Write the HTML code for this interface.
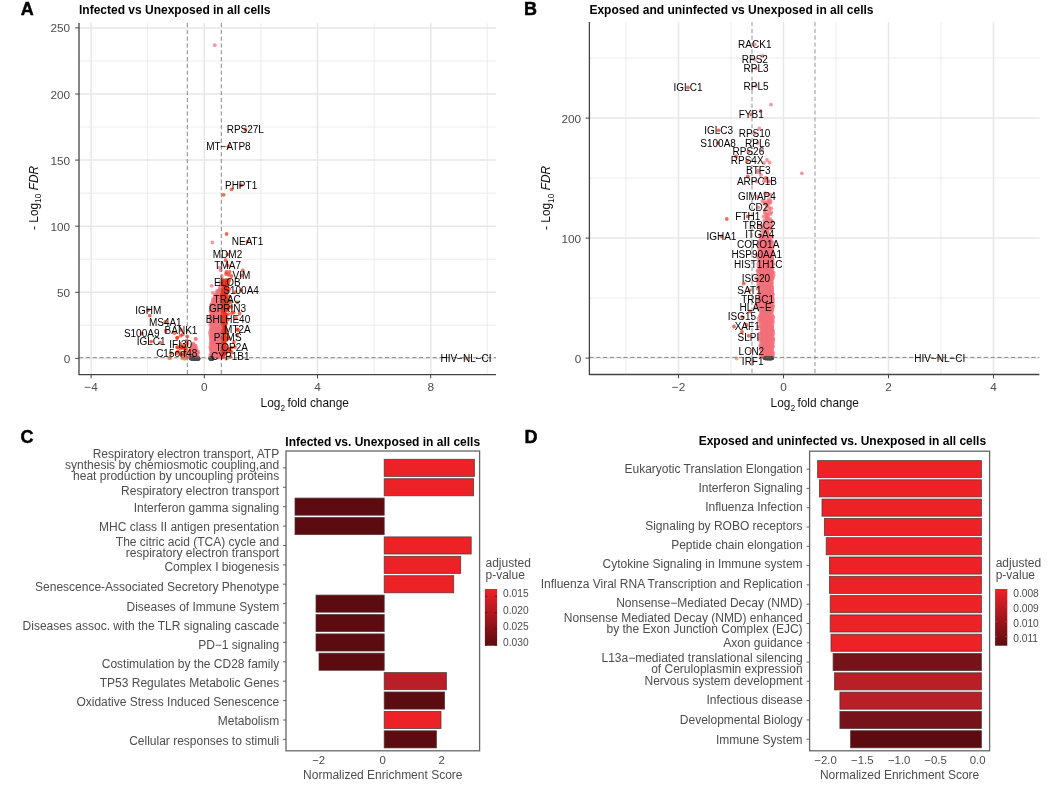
<!DOCTYPE html>
<html><head><meta charset="utf-8"><title>Figure</title>
<style>html,body{margin:0;padding:0;background:#fff}svg{display:block}text{font-family:"Liberation Sans", sans-serif}</style>
</head><body>
<svg width="1059" height="795" viewBox="0 0 1059 795">
<rect width="1059" height="795" fill="#fff"/>
<g>
<line x1="147.7" x2="147.7" y1="23" y2="374.6" stroke="#e9e9e9" stroke-width="0.8"/>
<line x1="260.9" x2="260.9" y1="23" y2="374.6" stroke="#e9e9e9" stroke-width="0.8"/>
<line x1="374.1" x2="374.1" y1="23" y2="374.6" stroke="#e9e9e9" stroke-width="0.8"/>
<line x1="487.3" x2="487.3" y1="23" y2="374.6" stroke="#e9e9e9" stroke-width="0.8"/>
<line x1="79.0" x2="496" y1="325.3" y2="325.3" stroke="#e9e9e9" stroke-width="0.8"/>
<line x1="79.0" x2="496" y1="259.2" y2="259.2" stroke="#e9e9e9" stroke-width="0.8"/>
<line x1="79.0" x2="496" y1="193.1" y2="193.1" stroke="#e9e9e9" stroke-width="0.8"/>
<line x1="79.0" x2="496" y1="127.0" y2="127.0" stroke="#e9e9e9" stroke-width="0.8"/>
<line x1="79.0" x2="496" y1="60.9" y2="60.9" stroke="#e9e9e9" stroke-width="0.8"/>
<line x1="91.1" x2="91.1" y1="23" y2="374.6" stroke="#e7e7e7" stroke-width="1.5"/>
<line x1="204.3" x2="204.3" y1="23" y2="374.6" stroke="#e7e7e7" stroke-width="1.5"/>
<line x1="317.5" x2="317.5" y1="23" y2="374.6" stroke="#e7e7e7" stroke-width="1.5"/>
<line x1="430.7" x2="430.7" y1="23" y2="374.6" stroke="#e7e7e7" stroke-width="1.5"/>
<line x1="79.0" x2="496" y1="358.4" y2="358.4" stroke="#e7e7e7" stroke-width="1.5"/>
<line x1="79.0" x2="496" y1="292.3" y2="292.3" stroke="#e7e7e7" stroke-width="1.5"/>
<line x1="79.0" x2="496" y1="226.2" y2="226.2" stroke="#e7e7e7" stroke-width="1.5"/>
<line x1="79.0" x2="496" y1="160.1" y2="160.1" stroke="#e7e7e7" stroke-width="1.5"/>
<line x1="79.0" x2="496" y1="94.0" y2="94.0" stroke="#e7e7e7" stroke-width="1.5"/>
<line x1="79.0" x2="496" y1="27.9" y2="27.9" stroke="#e7e7e7" stroke-width="1.5"/>
<g fill-opacity="0.72">
<circle cx="214.5" cy="332.7" r="1.9" fill="#f2707a"/>
<circle cx="215.2" cy="332.9" r="1.9" fill="#f2707a"/>
<circle cx="221.2" cy="298.4" r="1.9" fill="#f2707a"/>
<circle cx="221.2" cy="353.1" r="1.9" fill="#f2707a"/>
<circle cx="221.7" cy="297.2" r="1.9" fill="#f2707a"/>
<circle cx="217.2" cy="322.4" r="1.9" fill="#f2707a"/>
<circle cx="219.4" cy="294.9" r="1.9" fill="#f2707a"/>
<circle cx="219.8" cy="292.1" r="1.9" fill="#f2707a"/>
<circle cx="210.7" cy="317.6" r="1.9" fill="#f2707a"/>
<circle cx="213.3" cy="307.7" r="1.9" fill="#f2707a"/>
<circle cx="211.6" cy="341.8" r="1.9" fill="#f2707a"/>
<circle cx="192.1" cy="346.1" r="1.9" fill="#f2707a"/>
<circle cx="221.5" cy="299.9" r="1.9" fill="#f2707a"/>
<circle cx="220.6" cy="320.4" r="1.9" fill="#f2707a"/>
<circle cx="214.9" cy="328.7" r="1.9" fill="#f2707a"/>
<circle cx="213.9" cy="313.2" r="1.9" fill="#f2707a"/>
<circle cx="214.8" cy="334.1" r="1.9" fill="#f2707a"/>
<circle cx="218.5" cy="355.5" r="1.9" fill="#f2707a"/>
<circle cx="215.2" cy="337.0" r="1.9" fill="#f2707a"/>
<circle cx="218.9" cy="311.4" r="1.9" fill="#f2707a"/>
<circle cx="210.6" cy="329.8" r="1.9" fill="#f2707a"/>
<circle cx="212.4" cy="340.4" r="1.9" fill="#f2707a"/>
<circle cx="212.4" cy="355.8" r="1.9" fill="#f2707a"/>
<circle cx="219.7" cy="304.8" r="1.9" fill="#f2707a"/>
<circle cx="211.9" cy="349.1" r="1.9" fill="#f2707a"/>
<circle cx="191.8" cy="356.5" r="1.9" fill="#f2707a"/>
<circle cx="216.6" cy="325.1" r="1.9" fill="#f2707a"/>
<circle cx="213.9" cy="346.4" r="1.9" fill="#f2707a"/>
<circle cx="211.1" cy="339.7" r="1.9" fill="#f2707a"/>
<circle cx="218.3" cy="316.8" r="1.9" fill="#f2707a"/>
<circle cx="212.6" cy="306.1" r="1.9" fill="#f2707a"/>
<circle cx="221.2" cy="352.3" r="1.9" fill="#f2707a"/>
<circle cx="214.8" cy="336.1" r="1.9" fill="#f2707a"/>
<circle cx="220.9" cy="297.3" r="1.9" fill="#f2707a"/>
<circle cx="194.2" cy="355.8" r="1.9" fill="#f2707a"/>
<circle cx="220.1" cy="337.7" r="1.9" fill="#f2707a"/>
<circle cx="221.0" cy="346.5" r="1.9" fill="#f2707a"/>
<circle cx="217.5" cy="333.1" r="1.9" fill="#f2707a"/>
<circle cx="219.1" cy="349.0" r="1.9" fill="#f2707a"/>
<circle cx="219.0" cy="332.1" r="1.9" fill="#f2707a"/>
<circle cx="195.6" cy="338.8" r="1.9" fill="#f2707a"/>
<circle cx="214.2" cy="352.8" r="1.9" fill="#f2707a"/>
<circle cx="215.3" cy="354.6" r="1.9" fill="#f2707a"/>
<circle cx="194.3" cy="353.1" r="1.9" fill="#f2707a"/>
<circle cx="213.6" cy="340.7" r="1.9" fill="#f2707a"/>
<circle cx="216.8" cy="324.6" r="1.9" fill="#f2707a"/>
<circle cx="215.1" cy="340.4" r="1.9" fill="#f2707a"/>
<circle cx="217.1" cy="294.9" r="1.9" fill="#f2707a"/>
<circle cx="219.3" cy="324.3" r="1.9" fill="#f2707a"/>
<circle cx="220.0" cy="335.0" r="1.9" fill="#f2707a"/>
<circle cx="191.0" cy="357.4" r="1.9" fill="#f2707a"/>
<circle cx="189.7" cy="354.0" r="1.9" fill="#f2707a"/>
<circle cx="198.2" cy="352.5" r="1.9" fill="#f2707a"/>
<circle cx="191.0" cy="353.8" r="1.9" fill="#f2707a"/>
<circle cx="210.0" cy="334.1" r="1.9" fill="#f2707a"/>
<circle cx="214.4" cy="308.2" r="1.9" fill="#f2707a"/>
<circle cx="221.1" cy="347.8" r="1.9" fill="#f2707a"/>
<circle cx="215.3" cy="342.3" r="1.9" fill="#f2707a"/>
<circle cx="194.1" cy="352.5" r="1.9" fill="#f2707a"/>
<circle cx="216.6" cy="332.1" r="1.9" fill="#f2707a"/>
<circle cx="212.6" cy="327.9" r="1.9" fill="#f2707a"/>
<circle cx="218.3" cy="349.7" r="1.9" fill="#f2707a"/>
<circle cx="218.9" cy="292.2" r="1.9" fill="#f2707a"/>
<circle cx="220.4" cy="313.8" r="1.9" fill="#f2707a"/>
<circle cx="211.3" cy="304.6" r="1.9" fill="#f2707a"/>
<circle cx="219.8" cy="322.5" r="1.9" fill="#f2707a"/>
<circle cx="212.4" cy="329.3" r="1.9" fill="#f2707a"/>
<circle cx="190.2" cy="353.4" r="1.9" fill="#f2707a"/>
<circle cx="216.9" cy="290.9" r="1.9" fill="#f2707a"/>
<circle cx="215.0" cy="344.4" r="1.9" fill="#f2707a"/>
<circle cx="220.8" cy="326.6" r="1.9" fill="#f2707a"/>
<circle cx="222.0" cy="342.8" r="1.9" fill="#f2707a"/>
<circle cx="214.8" cy="45.2" r="1.9" fill="#f2707a"/>
<circle cx="215.1" cy="353.5" r="1.9" fill="#f2707a"/>
<circle cx="217.4" cy="292.4" r="1.9" fill="#f2707a"/>
<circle cx="219.7" cy="339.3" r="1.9" fill="#f2707a"/>
<circle cx="221.5" cy="289.6" r="1.9" fill="#f2707a"/>
<circle cx="218.7" cy="333.2" r="1.9" fill="#f2707a"/>
<circle cx="218.2" cy="315.7" r="1.9" fill="#f2707a"/>
<circle cx="214.7" cy="302.4" r="1.9" fill="#f2707a"/>
<circle cx="212.9" cy="292.8" r="1.9" fill="#f2707a"/>
<circle cx="219.7" cy="310.6" r="1.9" fill="#f2707a"/>
<circle cx="211.7" cy="351.6" r="1.9" fill="#f2707a"/>
<circle cx="213.1" cy="348.9" r="1.9" fill="#f2707a"/>
<circle cx="218.7" cy="321.7" r="1.9" fill="#f2707a"/>
<circle cx="212.0" cy="308.7" r="1.9" fill="#f2707a"/>
<circle cx="216.9" cy="320.8" r="1.9" fill="#f2707a"/>
<circle cx="219.8" cy="341.7" r="1.9" fill="#f2707a"/>
<circle cx="191.2" cy="350.8" r="1.9" fill="#f2707a"/>
<circle cx="220.8" cy="270.4" r="1.9" fill="#f2707a"/>
<circle cx="219.1" cy="291.6" r="1.9" fill="#f2707a"/>
<circle cx="215.4" cy="310.9" r="1.9" fill="#f2707a"/>
<circle cx="212.5" cy="346.9" r="1.9" fill="#f2707a"/>
<circle cx="220.4" cy="286.3" r="1.9" fill="#f2707a"/>
<circle cx="214.6" cy="299.6" r="1.9" fill="#f2707a"/>
<circle cx="214.5" cy="311.2" r="1.9" fill="#f2707a"/>
<circle cx="214.3" cy="305.4" r="1.9" fill="#f2707a"/>
<circle cx="220.8" cy="339.9" r="1.9" fill="#f2707a"/>
<circle cx="211.9" cy="307.8" r="1.9" fill="#f2707a"/>
<circle cx="218.7" cy="350.3" r="1.9" fill="#f2707a"/>
<circle cx="213.4" cy="313.8" r="1.9" fill="#f2707a"/>
<circle cx="216.2" cy="354.7" r="1.9" fill="#f2707a"/>
<circle cx="197.5" cy="352.9" r="1.9" fill="#f2707a"/>
<circle cx="211.8" cy="323.5" r="1.9" fill="#f2707a"/>
<circle cx="219.7" cy="345.3" r="1.9" fill="#f2707a"/>
<circle cx="221.0" cy="289.7" r="1.9" fill="#f2707a"/>
<circle cx="215.0" cy="306.6" r="1.9" fill="#f2707a"/>
<circle cx="219.5" cy="334.6" r="1.9" fill="#f2707a"/>
<circle cx="191.3" cy="354.6" r="1.9" fill="#f2707a"/>
<circle cx="218.5" cy="304.0" r="1.9" fill="#f2707a"/>
<circle cx="218.3" cy="342.4" r="1.9" fill="#f2707a"/>
<circle cx="219.2" cy="297.7" r="1.9" fill="#f2707a"/>
<circle cx="213.3" cy="315.0" r="1.9" fill="#f2707a"/>
<circle cx="217.4" cy="306.7" r="1.9" fill="#f2707a"/>
<circle cx="212.1" cy="356.8" r="1.9" fill="#f2707a"/>
<circle cx="215.5" cy="294.4" r="1.9" fill="#f2707a"/>
<circle cx="213.5" cy="352.1" r="1.9" fill="#f2707a"/>
<circle cx="219.7" cy="313.4" r="1.9" fill="#f2707a"/>
<circle cx="190.1" cy="351.5" r="1.9" fill="#f2707a"/>
<circle cx="216.0" cy="307.5" r="1.9" fill="#f2707a"/>
<circle cx="221.6" cy="303.5" r="1.9" fill="#f2707a"/>
<circle cx="220.6" cy="281.2" r="1.9" fill="#f2707a"/>
<circle cx="220.7" cy="283.6" r="1.9" fill="#f2707a"/>
<circle cx="212.5" cy="342.9" r="1.9" fill="#f2707a"/>
<circle cx="219.6" cy="289.0" r="1.9" fill="#f2707a"/>
<circle cx="218.3" cy="327.7" r="1.9" fill="#f2707a"/>
<circle cx="197.0" cy="352.5" r="1.9" fill="#f2707a"/>
<circle cx="212.7" cy="301.3" r="1.9" fill="#f2707a"/>
<circle cx="216.5" cy="352.5" r="1.9" fill="#f2707a"/>
<circle cx="213.7" cy="306.7" r="1.9" fill="#f2707a"/>
<circle cx="194.2" cy="354.2" r="1.9" fill="#f2707a"/>
<circle cx="215.3" cy="325.0" r="1.9" fill="#f2707a"/>
<circle cx="210.9" cy="346.1" r="1.9" fill="#f2707a"/>
<circle cx="217.2" cy="310.2" r="1.9" fill="#f2707a"/>
<circle cx="213.1" cy="332.1" r="1.9" fill="#f2707a"/>
<circle cx="211.2" cy="313.8" r="1.9" fill="#f2707a"/>
<circle cx="221.0" cy="335.4" r="1.9" fill="#f2707a"/>
<circle cx="195.8" cy="339.0" r="1.9" fill="#f2707a"/>
<circle cx="217.0" cy="319.7" r="1.9" fill="#f2707a"/>
<circle cx="217.3" cy="334.7" r="1.9" fill="#f2707a"/>
<circle cx="218.2" cy="317.7" r="1.9" fill="#f2707a"/>
<circle cx="196.9" cy="356.0" r="1.9" fill="#f2707a"/>
<circle cx="192.7" cy="350.9" r="1.9" fill="#f2707a"/>
<circle cx="213.2" cy="317.2" r="1.9" fill="#f2707a"/>
<circle cx="216.0" cy="326.7" r="1.9" fill="#f2707a"/>
<circle cx="214.4" cy="345.5" r="1.9" fill="#f2707a"/>
<circle cx="220.2" cy="354.7" r="1.9" fill="#f2707a"/>
<circle cx="222.0" cy="337.6" r="1.9" fill="#f2707a"/>
<circle cx="214.2" cy="330.5" r="1.9" fill="#f2707a"/>
<circle cx="216.1" cy="330.1" r="1.9" fill="#f2707a"/>
<circle cx="214.4" cy="356.5" r="1.9" fill="#f2707a"/>
<circle cx="210.1" cy="332.1" r="1.9" fill="#f2707a"/>
<circle cx="219.0" cy="326.9" r="1.9" fill="#f2707a"/>
<circle cx="214.5" cy="309.2" r="1.9" fill="#f2707a"/>
<circle cx="221.1" cy="320.3" r="1.9" fill="#f2707a"/>
<circle cx="217.1" cy="340.1" r="1.9" fill="#f2707a"/>
<circle cx="219.7" cy="340.0" r="1.9" fill="#f2707a"/>
<circle cx="211.0" cy="330.7" r="1.9" fill="#f2707a"/>
<circle cx="211.9" cy="344.3" r="1.9" fill="#f2707a"/>
<circle cx="194.0" cy="345.5" r="1.9" fill="#f2707a"/>
<circle cx="213.5" cy="353.9" r="1.9" fill="#f2707a"/>
<circle cx="210.3" cy="355.1" r="1.9" fill="#f2707a"/>
<circle cx="193.5" cy="357.3" r="1.9" fill="#f2707a"/>
<circle cx="210.1" cy="317.1" r="1.9" fill="#f2707a"/>
<circle cx="221.7" cy="308.3" r="1.9" fill="#f2707a"/>
<circle cx="218.5" cy="346.1" r="1.9" fill="#f2707a"/>
<circle cx="215.5" cy="321.9" r="1.9" fill="#f2707a"/>
<circle cx="212.4" cy="335.5" r="1.9" fill="#f2707a"/>
<circle cx="215.1" cy="314.3" r="1.9" fill="#f2707a"/>
<circle cx="196.3" cy="348.0" r="1.9" fill="#f2707a"/>
<circle cx="217.3" cy="345.7" r="1.9" fill="#f2707a"/>
<circle cx="196.0" cy="356.2" r="1.9" fill="#f2707a"/>
<circle cx="222.2" cy="291.8" r="1.9" fill="#f2707a"/>
<circle cx="213.3" cy="317.4" r="1.9" fill="#f2707a"/>
<circle cx="218.6" cy="301.3" r="1.9" fill="#f2707a"/>
<circle cx="219.9" cy="291.5" r="1.9" fill="#f2707a"/>
<circle cx="214.1" cy="355.8" r="1.9" fill="#f2707a"/>
<circle cx="216.4" cy="321.4" r="1.9" fill="#f2707a"/>
<circle cx="222.1" cy="296.7" r="1.9" fill="#f2707a"/>
<circle cx="216.7" cy="337.9" r="1.9" fill="#f2707a"/>
<circle cx="212.0" cy="354.8" r="1.9" fill="#f2707a"/>
<circle cx="221.2" cy="284.8" r="1.9" fill="#f2707a"/>
<circle cx="216.4" cy="308.6" r="1.9" fill="#f2707a"/>
<circle cx="217.9" cy="309.6" r="1.9" fill="#f2707a"/>
<circle cx="219.8" cy="354.4" r="1.9" fill="#f2707a"/>
<circle cx="219.7" cy="328.6" r="1.9" fill="#f2707a"/>
<circle cx="217.0" cy="315.7" r="1.9" fill="#f2707a"/>
<circle cx="213.9" cy="337.9" r="1.9" fill="#f2707a"/>
<circle cx="220.6" cy="348.7" r="1.9" fill="#f2707a"/>
<circle cx="194.7" cy="351.9" r="1.9" fill="#f2707a"/>
<circle cx="218.0" cy="357.5" r="1.9" fill="#f2707a"/>
<circle cx="191.2" cy="349.4" r="1.9" fill="#f2707a"/>
<circle cx="219.7" cy="330.2" r="1.9" fill="#f2707a"/>
<circle cx="215.4" cy="327.4" r="1.9" fill="#f2707a"/>
<circle cx="219.3" cy="344.7" r="1.9" fill="#f2707a"/>
<circle cx="222.0" cy="293.8" r="1.9" fill="#f2707a"/>
<circle cx="220.1" cy="296.7" r="1.9" fill="#f2707a"/>
<circle cx="191.5" cy="347.4" r="1.9" fill="#f2707a"/>
<circle cx="214.4" cy="323.5" r="1.9" fill="#f2707a"/>
<circle cx="221.2" cy="356.7" r="1.9" fill="#f2707a"/>
<circle cx="217.9" cy="354.4" r="1.9" fill="#f2707a"/>
<circle cx="211.9" cy="353.6" r="1.9" fill="#f2707a"/>
<circle cx="212.3" cy="337.7" r="1.9" fill="#f2707a"/>
<circle cx="221.3" cy="325.3" r="1.9" fill="#f2707a"/>
<circle cx="221.9" cy="328.4" r="1.9" fill="#f2707a"/>
<circle cx="221.9" cy="351.3" r="1.9" fill="#f2707a"/>
<circle cx="195.4" cy="356.8" r="1.9" fill="#f2707a"/>
<circle cx="213.2" cy="341.3" r="1.9" fill="#f2707a"/>
<circle cx="220.5" cy="344.4" r="1.9" fill="#f2707a"/>
<circle cx="219.1" cy="314.4" r="1.9" fill="#f2707a"/>
<circle cx="210.9" cy="325.1" r="1.9" fill="#f2707a"/>
<circle cx="213.9" cy="301.1" r="1.9" fill="#f2707a"/>
<circle cx="215.8" cy="349.5" r="1.9" fill="#f2707a"/>
<circle cx="221.3" cy="317.2" r="1.9" fill="#f2707a"/>
<circle cx="216.9" cy="294.4" r="1.9" fill="#f2707a"/>
<circle cx="215.8" cy="299.1" r="1.9" fill="#f2707a"/>
<circle cx="212.7" cy="313.4" r="1.9" fill="#f2707a"/>
<circle cx="189.7" cy="351.7" r="1.9" fill="#f2707a"/>
<circle cx="216.4" cy="346.5" r="1.9" fill="#f2707a"/>
<circle cx="217.9" cy="352.1" r="1.9" fill="#f2707a"/>
<circle cx="210.3" cy="324.8" r="1.9" fill="#f2707a"/>
<circle cx="195.3" cy="351.5" r="1.9" fill="#f2707a"/>
<circle cx="219.0" cy="310.9" r="1.9" fill="#f2707a"/>
<circle cx="218.7" cy="316.3" r="1.9" fill="#f2707a"/>
<circle cx="221.2" cy="301.5" r="1.9" fill="#f2707a"/>
<circle cx="213.9" cy="320.8" r="1.9" fill="#f2707a"/>
<circle cx="192.5" cy="344.6" r="1.9" fill="#f2707a"/>
<circle cx="213.0" cy="299.1" r="1.9" fill="#f2707a"/>
<circle cx="219.5" cy="267.7" r="1.9" fill="#f2707a"/>
<circle cx="212.4" cy="303.3" r="1.9" fill="#f2707a"/>
<circle cx="213.2" cy="348.5" r="1.9" fill="#f2707a"/>
<circle cx="219.1" cy="294.8" r="1.9" fill="#f2707a"/>
<circle cx="211.8" cy="312.9" r="1.9" fill="#f2707a"/>
<circle cx="221.3" cy="342.3" r="1.9" fill="#f2707a"/>
<circle cx="216.9" cy="339.5" r="1.9" fill="#f2707a"/>
<circle cx="214.5" cy="347.8" r="1.9" fill="#f2707a"/>
<circle cx="217.3" cy="337.1" r="1.9" fill="#f2707a"/>
<circle cx="211.9" cy="321.3" r="1.9" fill="#f2707a"/>
<circle cx="216.0" cy="337.8" r="1.9" fill="#f2707a"/>
<circle cx="211.6" cy="328.5" r="1.9" fill="#f2707a"/>
<circle cx="212.9" cy="309.8" r="1.9" fill="#f2707a"/>
<circle cx="217.5" cy="313.3" r="1.9" fill="#f2707a"/>
<circle cx="215.8" cy="304.3" r="1.9" fill="#f2707a"/>
<circle cx="215.2" cy="345.1" r="1.9" fill="#f2707a"/>
<circle cx="193.8" cy="347.3" r="1.9" fill="#f2707a"/>
<circle cx="218.4" cy="321.9" r="1.9" fill="#f2707a"/>
<circle cx="218.7" cy="303.2" r="1.9" fill="#f2707a"/>
<circle cx="211.1" cy="342.3" r="1.9" fill="#f2707a"/>
<circle cx="220.3" cy="355.4" r="1.9" fill="#f2707a"/>
<circle cx="216.8" cy="306.5" r="1.9" fill="#f2707a"/>
<circle cx="221.3" cy="315.9" r="1.9" fill="#f2707a"/>
<circle cx="221.1" cy="330.6" r="1.9" fill="#f2707a"/>
<circle cx="212.9" cy="333.5" r="1.9" fill="#f2707a"/>
<circle cx="219.2" cy="346.8" r="1.9" fill="#f2707a"/>
<circle cx="216.6" cy="305.6" r="1.9" fill="#f2707a"/>
<circle cx="213.6" cy="304.5" r="1.9" fill="#f2707a"/>
<circle cx="195.2" cy="347.0" r="1.9" fill="#f2707a"/>
<circle cx="211.7" cy="333.4" r="1.9" fill="#f2707a"/>
<circle cx="214.9" cy="304.5" r="1.9" fill="#f2707a"/>
<circle cx="213.0" cy="330.3" r="1.9" fill="#f2707a"/>
<circle cx="218.7" cy="325.9" r="1.9" fill="#f2707a"/>
<circle cx="221.2" cy="345.8" r="1.9" fill="#f2707a"/>
<circle cx="210.8" cy="306.8" r="1.9" fill="#f2707a"/>
<circle cx="211.6" cy="314.1" r="1.9" fill="#f2707a"/>
<circle cx="215.9" cy="323.3" r="1.9" fill="#f2707a"/>
<circle cx="211.0" cy="315.3" r="1.9" fill="#f2707a"/>
<circle cx="211.1" cy="318.7" r="1.9" fill="#f2707a"/>
<circle cx="212.4" cy="242.5" r="1.9" fill="#f2707a"/>
<circle cx="195.6" cy="352.9" r="1.9" fill="#f2707a"/>
<circle cx="215.3" cy="302.8" r="1.9" fill="#f2707a"/>
<circle cx="210.5" cy="311.3" r="1.9" fill="#f2707a"/>
<circle cx="193.4" cy="348.0" r="1.9" fill="#f2707a"/>
<circle cx="220.3" cy="334.3" r="1.9" fill="#f2707a"/>
<circle cx="192.6" cy="352.2" r="1.9" fill="#f2707a"/>
<circle cx="215.8" cy="344.3" r="1.9" fill="#f2707a"/>
<circle cx="216.8" cy="356.5" r="1.9" fill="#f2707a"/>
<circle cx="210.2" cy="347.1" r="1.9" fill="#f2707a"/>
<circle cx="217.0" cy="303.2" r="1.9" fill="#f2707a"/>
<circle cx="211.0" cy="348.5" r="1.9" fill="#f2707a"/>
<circle cx="213.7" cy="334.6" r="1.9" fill="#f2707a"/>
<circle cx="211.1" cy="352.5" r="1.9" fill="#f2707a"/>
<circle cx="213.5" cy="356.4" r="1.9" fill="#f2707a"/>
<circle cx="215.7" cy="295.1" r="1.9" fill="#f2707a"/>
<circle cx="221.6" cy="323.2" r="1.9" fill="#f2707a"/>
<circle cx="214.7" cy="326.2" r="1.9" fill="#f2707a"/>
<circle cx="216.2" cy="343.1" r="1.9" fill="#f2707a"/>
<circle cx="221.8" cy="275.9" r="1.9" fill="#f2707a"/>
<circle cx="192.1" cy="349.7" r="1.9" fill="#f2707a"/>
<circle cx="192.4" cy="352.9" r="1.9" fill="#f2707a"/>
<circle cx="195.0" cy="348.4" r="1.9" fill="#f2707a"/>
<circle cx="214.0" cy="344.3" r="1.9" fill="#f2707a"/>
<circle cx="211.5" cy="331.5" r="1.9" fill="#f2707a"/>
<circle cx="215.0" cy="349.0" r="1.9" fill="#f2707a"/>
<circle cx="218.9" cy="341.2" r="1.9" fill="#f2707a"/>
<circle cx="213.8" cy="350.5" r="1.9" fill="#f2707a"/>
<circle cx="215.5" cy="347.6" r="1.9" fill="#f2707a"/>
<circle cx="214.7" cy="316.9" r="1.9" fill="#f2707a"/>
<circle cx="218.3" cy="296.1" r="1.9" fill="#f2707a"/>
<circle cx="189.8" cy="355.4" r="1.9" fill="#f2707a"/>
<circle cx="217.6" cy="296.4" r="1.9" fill="#f2707a"/>
<circle cx="215.7" cy="320.1" r="1.9" fill="#f2707a"/>
<circle cx="220.9" cy="306.2" r="1.9" fill="#f2707a"/>
<circle cx="217.5" cy="327.7" r="1.9" fill="#f2707a"/>
<circle cx="218.9" cy="294.1" r="1.9" fill="#f2707a"/>
<circle cx="221.2" cy="305.6" r="1.9" fill="#f2707a"/>
<circle cx="218.2" cy="307.7" r="1.9" fill="#f2707a"/>
<circle cx="211.2" cy="340.6" r="1.9" fill="#f2707a"/>
<circle cx="219.7" cy="327.8" r="1.9" fill="#f2707a"/>
<circle cx="220.9" cy="310.8" r="1.9" fill="#f2707a"/>
<circle cx="220.3" cy="287.9" r="1.9" fill="#f2707a"/>
<circle cx="216.8" cy="353.1" r="1.9" fill="#f2707a"/>
<circle cx="218.5" cy="335.6" r="1.9" fill="#f2707a"/>
<circle cx="210.5" cy="343.9" r="1.9" fill="#f2707a"/>
<circle cx="216.1" cy="317.8" r="1.9" fill="#f2707a"/>
<circle cx="212.3" cy="317.1" r="1.9" fill="#f2707a"/>
<circle cx="216.5" cy="311.8" r="1.9" fill="#f2707a"/>
<circle cx="219.8" cy="299.3" r="1.9" fill="#f2707a"/>
<circle cx="210.9" cy="355.5" r="1.9" fill="#f2707a"/>
<circle cx="212.9" cy="305.2" r="1.9" fill="#f2707a"/>
<circle cx="197.4" cy="354.0" r="1.9" fill="#f2707a"/>
<circle cx="213.4" cy="327.0" r="1.9" fill="#f2707a"/>
<circle cx="219.5" cy="314.8" r="1.9" fill="#f2707a"/>
<circle cx="217.9" cy="303.7" r="1.9" fill="#f2707a"/>
<circle cx="217.3" cy="344.7" r="1.9" fill="#f2707a"/>
<circle cx="215.1" cy="355.4" r="1.9" fill="#f2707a"/>
<circle cx="219.8" cy="350.5" r="1.9" fill="#f2707a"/>
<circle cx="212.4" cy="346.0" r="1.9" fill="#f2707a"/>
<circle cx="192.2" cy="354.6" r="1.9" fill="#f2707a"/>
<circle cx="218.1" cy="297.3" r="1.9" fill="#f2707a"/>
<circle cx="189.1" cy="356.6" r="1.9" fill="#f2707a"/>
<circle cx="217.2" cy="305.3" r="1.9" fill="#f2707a"/>
<circle cx="215.2" cy="339.2" r="1.9" fill="#f2707a"/>
<circle cx="217.5" cy="308.2" r="1.9" fill="#f2707a"/>
<circle cx="220.4" cy="308.6" r="1.9" fill="#f2707a"/>
<circle cx="192.1" cy="348.4" r="1.9" fill="#f2707a"/>
<circle cx="219.1" cy="348.1" r="1.9" fill="#f2707a"/>
<circle cx="191.3" cy="352.0" r="1.9" fill="#f2707a"/>
<circle cx="198.3" cy="357.0" r="1.9" fill="#f2707a"/>
<circle cx="214.6" cy="297.4" r="1.9" fill="#f2707a"/>
<circle cx="217.0" cy="355.5" r="1.9" fill="#f2707a"/>
<circle cx="210.8" cy="310.2" r="1.9" fill="#f2707a"/>
<circle cx="214.8" cy="324.1" r="1.9" fill="#f2707a"/>
<circle cx="219.4" cy="333.4" r="1.9" fill="#f2707a"/>
<circle cx="219.0" cy="331.1" r="1.9" fill="#f2707a"/>
<circle cx="193.9" cy="349.4" r="1.9" fill="#f2707a"/>
<circle cx="210.9" cy="338.1" r="1.9" fill="#f2707a"/>
<circle cx="220.0" cy="303.7" r="1.9" fill="#f2707a"/>
<circle cx="218.7" cy="319.4" r="1.9" fill="#f2707a"/>
<circle cx="212.2" cy="334.3" r="1.9" fill="#f2707a"/>
<circle cx="213.6" cy="309.2" r="1.9" fill="#f2707a"/>
<circle cx="211.0" cy="335.3" r="1.9" fill="#f2707a"/>
<circle cx="219.2" cy="357.6" r="1.9" fill="#f2707a"/>
<circle cx="215.4" cy="319.6" r="1.9" fill="#f2707a"/>
<circle cx="215.4" cy="336.1" r="1.9" fill="#f2707a"/>
<circle cx="217.0" cy="335.0" r="1.9" fill="#f2707a"/>
<circle cx="219.9" cy="325.4" r="1.9" fill="#f2707a"/>
<circle cx="219.3" cy="301.1" r="1.9" fill="#f2707a"/>
<circle cx="217.7" cy="299.1" r="1.9" fill="#f2707a"/>
<circle cx="217.6" cy="329.9" r="1.9" fill="#f2707a"/>
<circle cx="216.9" cy="347.9" r="1.9" fill="#f2707a"/>
<circle cx="221.8" cy="317.3" r="1.9" fill="#f2707a"/>
<circle cx="214.5" cy="315.8" r="1.9" fill="#f2707a"/>
<circle cx="211.7" cy="319.7" r="1.9" fill="#f2707a"/>
<circle cx="194.5" cy="354.3" r="1.9" fill="#f2707a"/>
<circle cx="220.8" cy="331.2" r="1.9" fill="#f2707a"/>
<circle cx="213.7" cy="328.9" r="1.9" fill="#f2707a"/>
<circle cx="217.0" cy="350.1" r="1.9" fill="#f2707a"/>
<circle cx="212.3" cy="326.2" r="1.9" fill="#f2707a"/>
<circle cx="213.2" cy="323.9" r="1.9" fill="#f2707a"/>
<circle cx="220.8" cy="349.8" r="1.9" fill="#f2707a"/>
<circle cx="196.8" cy="357.0" r="1.9" fill="#f2707a"/>
<circle cx="220.7" cy="302.9" r="1.9" fill="#f2707a"/>
<circle cx="217.1" cy="343.1" r="1.9" fill="#f2707a"/>
<circle cx="222.0" cy="312.7" r="1.9" fill="#f2707a"/>
<circle cx="212.9" cy="321.4" r="1.9" fill="#f2707a"/>
<circle cx="220.8" cy="288.6" r="1.9" fill="#f2707a"/>
<circle cx="217.1" cy="302.1" r="1.9" fill="#f2707a"/>
<circle cx="220.6" cy="324.7" r="1.9" fill="#f2707a"/>
<circle cx="219.1" cy="306.9" r="1.9" fill="#f2707a"/>
<circle cx="218.8" cy="352.4" r="1.9" fill="#f2707a"/>
<circle cx="211.6" cy="339.8" r="1.9" fill="#f2707a"/>
<circle cx="213.9" cy="317.7" r="1.9" fill="#f2707a"/>
<circle cx="210.6" cy="348.9" r="1.9" fill="#f2707a"/>
<circle cx="215.1" cy="350.3" r="1.9" fill="#f2707a"/>
<circle cx="217.3" cy="311.4" r="1.9" fill="#f2707a"/>
<circle cx="194.2" cy="350.9" r="1.9" fill="#f2707a"/>
<circle cx="213.7" cy="338.8" r="1.9" fill="#f2707a"/>
<circle cx="210.2" cy="357.2" r="1.9" fill="#f2707a"/>
<circle cx="213.3" cy="299.9" r="1.9" fill="#f2707a"/>
<circle cx="192.6" cy="346.9" r="1.9" fill="#f2707a"/>
<circle cx="216.1" cy="316.0" r="1.9" fill="#f2707a"/>
<circle cx="212.6" cy="320.3" r="1.9" fill="#f2707a"/>
<circle cx="221.2" cy="328.8" r="1.9" fill="#f2707a"/>
<circle cx="195.8" cy="354.1" r="1.9" fill="#f2707a"/>
<circle cx="220.1" cy="294.3" r="1.9" fill="#f2707a"/>
<circle cx="219.3" cy="309.4" r="1.9" fill="#f2707a"/>
<circle cx="214.8" cy="325.4" r="1.9" fill="#f2707a"/>
<circle cx="218.0" cy="331.3" r="1.9" fill="#f2707a"/>
<circle cx="211.2" cy="350.2" r="1.9" fill="#f2707a"/>
<circle cx="212.2" cy="350.2" r="1.9" fill="#f2707a"/>
<circle cx="193.7" cy="345.1" r="1.9" fill="#f2707a"/>
<circle cx="210.1" cy="321.7" r="1.9" fill="#f2707a"/>
<circle cx="218.3" cy="313.9" r="1.9" fill="#f2707a"/>
<circle cx="217.4" cy="339.8" r="1.9" fill="#f2707a"/>
<circle cx="214.5" cy="310.2" r="1.9" fill="#f2707a"/>
<circle cx="214.3" cy="327.8" r="1.9" fill="#f2707a"/>
<circle cx="216.7" cy="342.1" r="1.9" fill="#f2707a"/>
<circle cx="218.2" cy="300.3" r="1.9" fill="#f2707a"/>
<circle cx="221.8" cy="278.6" r="1.9" fill="#f2707a"/>
<circle cx="219.5" cy="317.8" r="1.9" fill="#f2707a"/>
<circle cx="190.0" cy="350.2" r="1.9" fill="#f2707a"/>
<circle cx="216.2" cy="300.1" r="1.9" fill="#f2707a"/>
<circle cx="196.4" cy="349.9" r="1.9" fill="#f2707a"/>
<circle cx="193.4" cy="343.5" r="1.9" fill="#f2707a"/>
<circle cx="214.8" cy="296.7" r="1.9" fill="#f2707a"/>
<circle cx="220.5" cy="353.6" r="1.9" fill="#f2707a"/>
<circle cx="216.4" cy="329.2" r="1.9" fill="#f2707a"/>
<circle cx="216.3" cy="312.4" r="1.9" fill="#f2707a"/>
<circle cx="221.2" cy="337.0" r="1.9" fill="#f2707a"/>
<circle cx="191.3" cy="355.4" r="1.9" fill="#f2707a"/>
<circle cx="219.0" cy="291.0" r="1.9" fill="#f2707a"/>
<circle cx="215.3" cy="298.9" r="1.9" fill="#f2707a"/>
<circle cx="212.6" cy="311.1" r="1.9" fill="#f2707a"/>
<circle cx="221.7" cy="283.0" r="1.9" fill="#f2707a"/>
<circle cx="211.9" cy="336.8" r="1.9" fill="#f2707a"/>
<circle cx="221.1" cy="311.6" r="1.9" fill="#f2707a"/>
<circle cx="220.7" cy="321.4" r="1.9" fill="#f2707a"/>
<circle cx="214.2" cy="343.2" r="1.9" fill="#f2707a"/>
<circle cx="215.4" cy="347.2" r="1.9" fill="#f2707a"/>
<circle cx="217.6" cy="327.0" r="1.9" fill="#f2707a"/>
<circle cx="216.5" cy="297.1" r="1.9" fill="#f2707a"/>
<circle cx="217.6" cy="347.3" r="1.9" fill="#f2707a"/>
<circle cx="221.2" cy="340.2" r="1.9" fill="#f2707a"/>
<circle cx="195.1" cy="350.2" r="1.9" fill="#f2707a"/>
<circle cx="211.1" cy="327.3" r="1.9" fill="#f2707a"/>
<circle cx="211.5" cy="304.8" r="1.9" fill="#f2707a"/>
<circle cx="218.2" cy="320.7" r="1.9" fill="#f2707a"/>
<circle cx="217.4" cy="329.1" r="1.9" fill="#f2707a"/>
<circle cx="211.7" cy="342.7" r="1.9" fill="#f2707a"/>
<circle cx="218.5" cy="290.6" r="1.9" fill="#f2707a"/>
<circle cx="221.5" cy="356.2" r="1.9" fill="#f2707a"/>
<circle cx="219.9" cy="307.3" r="1.9" fill="#f2707a"/>
<circle cx="216.0" cy="334.6" r="1.9" fill="#f2707a"/>
<circle cx="197.6" cy="351.1" r="1.9" fill="#f2707a"/>
<circle cx="218.1" cy="353.2" r="1.9" fill="#f2707a"/>
<circle cx="222.2" cy="292.5" r="1.9" fill="#f2707a"/>
<circle cx="218.5" cy="343.2" r="1.9" fill="#f2707a"/>
<circle cx="194.8" cy="345.3" r="1.9" fill="#f2707a"/>
<circle cx="218.3" cy="337.5" r="1.9" fill="#f2707a"/>
<circle cx="210.5" cy="336.8" r="1.9" fill="#f2707a"/>
<circle cx="212.3" cy="322.5" r="1.9" fill="#f2707a"/>
<circle cx="217.1" cy="317.7" r="1.9" fill="#f2707a"/>
<circle cx="215.8" cy="315.2" r="1.9" fill="#f2707a"/>
<circle cx="218.9" cy="336.3" r="1.9" fill="#f2707a"/>
<circle cx="195.7" cy="345.7" r="1.9" fill="#f2707a"/>
<circle cx="211.8" cy="320.1" r="1.9" fill="#f2707a"/>
<circle cx="212.1" cy="324.4" r="1.9" fill="#f2707a"/>
<circle cx="211.0" cy="309.0" r="1.9" fill="#f2707a"/>
<circle cx="217.3" cy="324.5" r="1.9" fill="#f2707a"/>
<circle cx="193.0" cy="355.2" r="1.9" fill="#f2707a"/>
<circle cx="221.7" cy="295.7" r="1.9" fill="#f2707a"/>
<circle cx="218.3" cy="323.4" r="1.9" fill="#f2707a"/>
<circle cx="219.7" cy="300.2" r="1.9" fill="#f2707a"/>
<circle cx="216.3" cy="296.7" r="1.9" fill="#f2707a"/>
<circle cx="214.9" cy="331.6" r="1.9" fill="#f2707a"/>
<circle cx="217.5" cy="319.7" r="1.9" fill="#f2707a"/>
<circle cx="214.1" cy="336.6" r="1.9" fill="#f2707a"/>
<circle cx="211.6" cy="285.8" r="1.9" fill="#f2707a"/>
<circle cx="216.8" cy="314.3" r="1.9" fill="#f2707a"/>
<circle cx="212.8" cy="325.1" r="1.9" fill="#f2707a"/>
<circle cx="220.6" cy="343.4" r="1.9" fill="#f2707a"/>
<circle cx="216.2" cy="336.3" r="1.9" fill="#f2707a"/>
<circle cx="220.6" cy="319.0" r="1.9" fill="#f2707a"/>
<circle cx="221.5" cy="333.1" r="1.9" fill="#f2707a"/>
<circle cx="221.9" cy="302.5" r="1.9" fill="#f2707a"/>
<circle cx="212.6" cy="353.4" r="1.9" fill="#f2707a"/>
<circle cx="191.1" cy="349.0" r="1.9" fill="#f2707a"/>
<circle cx="218.0" cy="312.6" r="1.9" fill="#f2707a"/>
<circle cx="214.4" cy="351.9" r="1.9" fill="#f2707a"/>
<circle cx="213.0" cy="318.6" r="1.9" fill="#f2707a"/>
<circle cx="214.9" cy="301.9" r="1.9" fill="#f2707a"/>
<circle cx="213.6" cy="311.2" r="1.9" fill="#f2707a"/>
<circle cx="225.1" cy="326.4" r="1.9" fill="#ea341c"/>
<circle cx="223.5" cy="308.8" r="1.9" fill="#ea341c"/>
<circle cx="227.0" cy="284.3" r="1.9" fill="#ea341c"/>
<circle cx="225.2" cy="320.5" r="1.9" fill="#ea341c"/>
<circle cx="224.5" cy="296.5" r="1.9" fill="#ea341c"/>
<circle cx="225.5" cy="296.9" r="1.9" fill="#ea341c"/>
<circle cx="224.5" cy="310.0" r="1.9" fill="#ea341c"/>
<circle cx="237.4" cy="329.4" r="1.9" fill="#ea341c"/>
<circle cx="186.7" cy="340.8" r="1.9" fill="#ea341c"/>
<circle cx="224.0" cy="301.1" r="1.9" fill="#ea341c"/>
<circle cx="224.9" cy="280.3" r="1.9" fill="#ea341c"/>
<circle cx="225.1" cy="300.4" r="1.9" fill="#ea341c"/>
<circle cx="231.7" cy="347.6" r="1.9" fill="#ea341c"/>
<circle cx="227.0" cy="309.6" r="1.9" fill="#ea341c"/>
<circle cx="223.8" cy="295.2" r="1.9" fill="#ea341c"/>
<circle cx="225.4" cy="294.5" r="1.9" fill="#ea341c"/>
<circle cx="222.9" cy="350.4" r="1.9" fill="#ea341c"/>
<circle cx="184.2" cy="348.0" r="1.9" fill="#ea341c"/>
<circle cx="223.1" cy="305.3" r="1.9" fill="#ea341c"/>
<circle cx="236.0" cy="318.0" r="1.9" fill="#ea341c"/>
<circle cx="223.8" cy="280.4" r="1.9" fill="#ea341c"/>
<circle cx="224.4" cy="315.3" r="1.9" fill="#ea341c"/>
<circle cx="228.6" cy="281.2" r="1.9" fill="#ea341c"/>
<circle cx="224.9" cy="313.3" r="1.9" fill="#ea341c"/>
<circle cx="180.6" cy="348.6" r="1.9" fill="#ea341c"/>
<circle cx="223.9" cy="317.1" r="1.9" fill="#ea341c"/>
<circle cx="165.3" cy="322.0" r="1.9" fill="#ea341c"/>
<circle cx="231.6" cy="189.4" r="1.9" fill="#ea341c"/>
<circle cx="224.5" cy="293.4" r="1.9" fill="#ea341c"/>
<circle cx="222.8" cy="290.5" r="1.9" fill="#ea341c"/>
<circle cx="223.7" cy="351.6" r="1.9" fill="#ea341c"/>
<circle cx="225.6" cy="302.7" r="1.9" fill="#ea341c"/>
<circle cx="241.1" cy="290.5" r="1.9" fill="#ea341c"/>
<circle cx="222.8" cy="291.0" r="1.9" fill="#ea341c"/>
<circle cx="224.4" cy="309.9" r="1.9" fill="#ea341c"/>
<circle cx="226.0" cy="274.0" r="1.9" fill="#ea341c"/>
<circle cx="223.1" cy="318.4" r="1.9" fill="#ea341c"/>
<circle cx="225.8" cy="323.1" r="1.9" fill="#ea341c"/>
<circle cx="225.2" cy="347.4" r="1.9" fill="#ea341c"/>
<circle cx="223.2" cy="304.6" r="1.9" fill="#ea341c"/>
<circle cx="226.5" cy="351.4" r="1.9" fill="#ea341c"/>
<circle cx="171.0" cy="353.2" r="1.9" fill="#ea341c"/>
<circle cx="223.2" cy="295.9" r="1.9" fill="#ea341c"/>
<circle cx="184.3" cy="353.8" r="1.9" fill="#ea341c"/>
<circle cx="227.6" cy="290.3" r="1.9" fill="#ea341c"/>
<circle cx="225.1" cy="305.6" r="1.9" fill="#ea341c"/>
<circle cx="241.5" cy="275.4" r="1.9" fill="#ea341c"/>
<circle cx="224.4" cy="353.0" r="1.9" fill="#ea341c"/>
<circle cx="226.6" cy="284.0" r="1.9" fill="#ea341c"/>
<circle cx="223.1" cy="316.6" r="1.9" fill="#ea341c"/>
<circle cx="226.3" cy="329.4" r="1.9" fill="#ea341c"/>
<circle cx="174.6" cy="333.0" r="1.9" fill="#ea341c"/>
<circle cx="229.3" cy="348.7" r="1.9" fill="#ea341c"/>
<circle cx="177.0" cy="338.0" r="1.9" fill="#ea341c"/>
<circle cx="222.3" cy="293.7" r="1.9" fill="#ea341c"/>
<circle cx="224.9" cy="344.2" r="1.9" fill="#ea341c"/>
<circle cx="180.7" cy="335.6" r="1.9" fill="#ea341c"/>
<circle cx="225.0" cy="350.5" r="1.9" fill="#ea341c"/>
<circle cx="224.3" cy="305.5" r="1.9" fill="#ea341c"/>
<circle cx="223.6" cy="333.9" r="1.9" fill="#ea341c"/>
<circle cx="222.8" cy="282.6" r="1.9" fill="#ea341c"/>
<circle cx="226.0" cy="340.4" r="1.9" fill="#ea341c"/>
<circle cx="181.2" cy="347.2" r="1.9" fill="#ea341c"/>
<circle cx="185.3" cy="356.8" r="1.9" fill="#ea341c"/>
<circle cx="222.7" cy="311.3" r="1.9" fill="#ea341c"/>
<circle cx="227.5" cy="254.4" r="1.9" fill="#ea341c"/>
<circle cx="225.5" cy="288.8" r="1.9" fill="#ea341c"/>
<circle cx="224.8" cy="281.6" r="1.9" fill="#ea341c"/>
<circle cx="224.4" cy="315.8" r="1.9" fill="#ea341c"/>
<circle cx="226.2" cy="333.9" r="1.9" fill="#ea341c"/>
<circle cx="185.0" cy="351.5" r="1.9" fill="#ea341c"/>
<circle cx="223.2" cy="301.8" r="1.9" fill="#ea341c"/>
<circle cx="225.7" cy="302.4" r="1.9" fill="#ea341c"/>
<circle cx="148.2" cy="310.0" r="1.9" fill="#ea341c"/>
<circle cx="229.4" cy="350.6" r="1.9" fill="#ea341c"/>
<circle cx="224.4" cy="333.5" r="1.9" fill="#ea341c"/>
<circle cx="225.5" cy="299.5" r="1.9" fill="#ea341c"/>
<circle cx="224.4" cy="340.8" r="1.9" fill="#ea341c"/>
<circle cx="223.2" cy="343.0" r="1.9" fill="#ea341c"/>
<circle cx="233.7" cy="312.4" r="1.9" fill="#ea341c"/>
<circle cx="184.7" cy="352.1" r="1.9" fill="#ea341c"/>
<circle cx="228.2" cy="302.5" r="1.9" fill="#ea341c"/>
<circle cx="225.0" cy="295.6" r="1.9" fill="#ea341c"/>
<circle cx="224.6" cy="286.7" r="1.9" fill="#ea341c"/>
<circle cx="229.3" cy="300.6" r="1.9" fill="#ea341c"/>
<circle cx="222.8" cy="320.0" r="1.9" fill="#ea341c"/>
<circle cx="223.4" cy="300.9" r="1.9" fill="#ea341c"/>
<circle cx="224.9" cy="289.1" r="1.9" fill="#ea341c"/>
<circle cx="223.7" cy="281.5" r="1.9" fill="#ea341c"/>
<circle cx="226.5" cy="285.2" r="1.9" fill="#ea341c"/>
<circle cx="224.7" cy="345.7" r="1.9" fill="#ea341c"/>
<circle cx="226.9" cy="310.3" r="1.9" fill="#ea341c"/>
<circle cx="224.4" cy="311.7" r="1.9" fill="#ea341c"/>
<circle cx="226.7" cy="304.7" r="1.9" fill="#ea341c"/>
<circle cx="225.4" cy="314.8" r="1.9" fill="#ea341c"/>
<circle cx="187.2" cy="336.4" r="1.9" fill="#ea341c"/>
<circle cx="181.6" cy="346.6" r="1.9" fill="#ea341c"/>
<circle cx="228.2" cy="283.6" r="1.9" fill="#ea341c"/>
<circle cx="231.3" cy="306.8" r="1.9" fill="#ea341c"/>
<circle cx="222.9" cy="337.2" r="1.9" fill="#ea341c"/>
<circle cx="224.4" cy="304.0" r="1.9" fill="#ea341c"/>
<circle cx="222.2" cy="354.4" r="1.9" fill="#ea341c"/>
<circle cx="226.0" cy="316.3" r="1.9" fill="#ea341c"/>
<circle cx="225.0" cy="330.3" r="1.9" fill="#ea341c"/>
<circle cx="224.3" cy="329.1" r="1.9" fill="#ea341c"/>
<circle cx="223.3" cy="346.2" r="1.9" fill="#ea341c"/>
<circle cx="231.6" cy="352.0" r="1.9" fill="#ea341c"/>
<circle cx="223.0" cy="323.4" r="1.9" fill="#ea341c"/>
<circle cx="223.5" cy="317.3" r="1.9" fill="#ea341c"/>
<circle cx="223.4" cy="352.3" r="1.9" fill="#ea341c"/>
<circle cx="238.0" cy="330.0" r="1.9" fill="#ea341c"/>
<circle cx="226.4" cy="352.7" r="1.9" fill="#ea341c"/>
<circle cx="225.8" cy="333.2" r="1.9" fill="#ea341c"/>
<circle cx="180.7" cy="344.0" r="1.9" fill="#ea341c"/>
<circle cx="225.2" cy="325.0" r="1.9" fill="#ea341c"/>
<circle cx="224.3" cy="335.4" r="1.9" fill="#ea341c"/>
<circle cx="160.2" cy="342.6" r="1.9" fill="#ea341c"/>
<circle cx="225.3" cy="281.9" r="1.9" fill="#ea341c"/>
<circle cx="183.0" cy="347.8" r="1.9" fill="#ea341c"/>
<circle cx="225.2" cy="337.3" r="1.9" fill="#ea341c"/>
<circle cx="228.0" cy="299.9" r="1.9" fill="#ea341c"/>
<circle cx="185.7" cy="349.0" r="1.9" fill="#ea341c"/>
<circle cx="228.0" cy="319.6" r="1.9" fill="#ea341c"/>
<circle cx="222.6" cy="322.1" r="1.9" fill="#ea341c"/>
<circle cx="225.6" cy="322.0" r="1.9" fill="#ea341c"/>
<circle cx="241.1" cy="185.2" r="1.9" fill="#ea341c"/>
<circle cx="225.8" cy="330.8" r="1.9" fill="#ea341c"/>
<circle cx="222.3" cy="295.0" r="1.9" fill="#ea341c"/>
<circle cx="176.7" cy="353.0" r="1.9" fill="#ea341c"/>
<circle cx="224.4" cy="327.8" r="1.9" fill="#ea341c"/>
<circle cx="223.8" cy="320.8" r="1.9" fill="#ea341c"/>
<circle cx="222.2" cy="354.9" r="1.9" fill="#ea341c"/>
<circle cx="237.0" cy="335.0" r="1.9" fill="#ea341c"/>
<circle cx="223.8" cy="295.3" r="1.9" fill="#ea341c"/>
<circle cx="224.1" cy="306.6" r="1.9" fill="#ea341c"/>
<circle cx="224.0" cy="342.6" r="1.9" fill="#ea341c"/>
<circle cx="225.7" cy="314.7" r="1.9" fill="#ea341c"/>
<circle cx="182.8" cy="334.6" r="1.9" fill="#ea341c"/>
<circle cx="237.4" cy="302.3" r="1.9" fill="#ea341c"/>
<circle cx="223.5" cy="310.9" r="1.9" fill="#ea341c"/>
<circle cx="226.6" cy="286.2" r="1.9" fill="#ea341c"/>
<circle cx="223.8" cy="347.3" r="1.9" fill="#ea341c"/>
<circle cx="186.1" cy="357.2" r="1.9" fill="#ea341c"/>
<circle cx="222.4" cy="314.0" r="1.9" fill="#ea341c"/>
<circle cx="224.9" cy="343.7" r="1.9" fill="#ea341c"/>
<circle cx="223.7" cy="338.3" r="1.9" fill="#ea341c"/>
<circle cx="224.4" cy="326.7" r="1.9" fill="#ea341c"/>
<circle cx="230.1" cy="351.0" r="1.9" fill="#ea341c"/>
<circle cx="225.7" cy="285.8" r="1.9" fill="#ea341c"/>
<circle cx="225.6" cy="317.9" r="1.9" fill="#ea341c"/>
<circle cx="225.9" cy="323.6" r="1.9" fill="#ea341c"/>
<circle cx="235.0" cy="347.0" r="1.9" fill="#ea341c"/>
<circle cx="227.4" cy="288.5" r="1.9" fill="#ea341c"/>
<circle cx="223.1" cy="292.8" r="1.9" fill="#ea341c"/>
<circle cx="224.6" cy="303.2" r="1.9" fill="#ea341c"/>
<circle cx="228.1" cy="314.2" r="1.9" fill="#ea341c"/>
<circle cx="228.9" cy="305.8" r="1.9" fill="#ea341c"/>
<circle cx="225.0" cy="283.1" r="1.9" fill="#ea341c"/>
<circle cx="223.0" cy="307.6" r="1.9" fill="#ea341c"/>
<circle cx="229.1" cy="280.1" r="1.9" fill="#ea341c"/>
<circle cx="224.5" cy="346.2" r="1.9" fill="#ea341c"/>
<circle cx="183.8" cy="345.9" r="1.9" fill="#ea341c"/>
<circle cx="225.4" cy="292.0" r="1.9" fill="#ea341c"/>
<circle cx="224.6" cy="296.0" r="1.9" fill="#ea341c"/>
<circle cx="229.6" cy="296.3" r="1.9" fill="#ea341c"/>
<circle cx="223.0" cy="290.9" r="1.9" fill="#ea341c"/>
<circle cx="223.6" cy="332.1" r="1.9" fill="#ea341c"/>
<circle cx="224.6" cy="318.5" r="1.9" fill="#ea341c"/>
<circle cx="228.5" cy="308.0" r="1.9" fill="#ea341c"/>
<circle cx="231.7" cy="313.1" r="1.9" fill="#ea341c"/>
<circle cx="180.8" cy="353.9" r="1.9" fill="#ea341c"/>
<circle cx="223.5" cy="289.4" r="1.9" fill="#ea341c"/>
<circle cx="223.9" cy="283.0" r="1.9" fill="#ea341c"/>
<circle cx="225.2" cy="288.4" r="1.9" fill="#ea341c"/>
<circle cx="226.5" cy="290.9" r="1.9" fill="#ea341c"/>
<circle cx="223.9" cy="320.0" r="1.9" fill="#ea341c"/>
<circle cx="225.7" cy="304.2" r="1.9" fill="#ea341c"/>
<circle cx="222.6" cy="305.9" r="1.9" fill="#ea341c"/>
<circle cx="223.6" cy="327.5" r="1.9" fill="#ea341c"/>
<circle cx="223.0" cy="341.1" r="1.9" fill="#ea341c"/>
<circle cx="222.4" cy="337.6" r="1.9" fill="#ea341c"/>
<circle cx="186.0" cy="347.6" r="1.9" fill="#ea341c"/>
<circle cx="224.7" cy="338.5" r="1.9" fill="#ea341c"/>
<circle cx="223.6" cy="302.7" r="1.9" fill="#ea341c"/>
<circle cx="225.7" cy="260.2" r="1.9" fill="#ea341c"/>
<circle cx="177.9" cy="347.2" r="1.9" fill="#ea341c"/>
<circle cx="223.2" cy="353.2" r="1.9" fill="#ea341c"/>
<circle cx="239.6" cy="313.5" r="1.9" fill="#ea341c"/>
<circle cx="227.0" cy="338.6" r="1.9" fill="#ea341c"/>
<circle cx="226.1" cy="293.8" r="1.9" fill="#ea341c"/>
<circle cx="224.3" cy="340.4" r="1.9" fill="#ea341c"/>
<circle cx="225.9" cy="296.0" r="1.9" fill="#ea341c"/>
<circle cx="227.7" cy="265.4" r="1.9" fill="#ea341c"/>
<circle cx="222.9" cy="357.4" r="1.9" fill="#ea341c"/>
<circle cx="227.2" cy="299.4" r="1.9" fill="#ea341c"/>
<circle cx="245.3" cy="129.4" r="1.9" fill="#ea341c"/>
<circle cx="226.5" cy="279.8" r="1.9" fill="#ea341c"/>
<circle cx="223.6" cy="194.8" r="1.9" fill="#ea341c"/>
<circle cx="227.1" cy="281.0" r="1.9" fill="#ea341c"/>
<circle cx="224.8" cy="332.0" r="1.9" fill="#ea341c"/>
<circle cx="223.5" cy="298.4" r="1.9" fill="#ea341c"/>
<circle cx="223.2" cy="352.9" r="1.9" fill="#ea341c"/>
<circle cx="226.2" cy="300.9" r="1.9" fill="#ea341c"/>
<circle cx="222.1" cy="294.8" r="1.9" fill="#ea341c"/>
<circle cx="222.9" cy="282.9" r="1.9" fill="#ea341c"/>
<circle cx="222.5" cy="348.6" r="1.9" fill="#ea341c"/>
<circle cx="223.0" cy="355.4" r="1.9" fill="#ea341c"/>
<circle cx="223.3" cy="309.7" r="1.9" fill="#ea341c"/>
<circle cx="242.8" cy="270.4" r="1.9" fill="#ea341c"/>
<circle cx="223.6" cy="322.0" r="1.9" fill="#ea341c"/>
<circle cx="228.7" cy="274.8" r="1.9" fill="#ea341c"/>
<circle cx="141.7" cy="333.4" r="1.9" fill="#ea341c"/>
<circle cx="226.4" cy="348.0" r="1.9" fill="#ea341c"/>
<circle cx="224.0" cy="354.0" r="1.9" fill="#ea341c"/>
<circle cx="224.9" cy="314.4" r="1.9" fill="#ea341c"/>
<circle cx="222.7" cy="305.4" r="1.9" fill="#ea341c"/>
<circle cx="229.3" cy="289.1" r="1.9" fill="#ea341c"/>
<circle cx="222.5" cy="310.2" r="1.9" fill="#ea341c"/>
<circle cx="226.6" cy="234.0" r="1.9" fill="#ea341c"/>
<circle cx="225.8" cy="286.6" r="1.9" fill="#ea341c"/>
<circle cx="224.4" cy="324.1" r="1.9" fill="#ea341c"/>
<circle cx="224.1" cy="284.5" r="1.9" fill="#ea341c"/>
<circle cx="224.9" cy="301.6" r="1.9" fill="#ea341c"/>
<circle cx="224.0" cy="299.9" r="1.9" fill="#ea341c"/>
<circle cx="183.3" cy="354.5" r="1.9" fill="#ea341c"/>
<circle cx="151.2" cy="341.6" r="1.9" fill="#ea341c"/>
<circle cx="224.2" cy="348.9" r="1.9" fill="#ea341c"/>
<circle cx="227.3" cy="299.5" r="1.9" fill="#ea341c"/>
<circle cx="226.4" cy="294.9" r="1.9" fill="#ea341c"/>
<circle cx="229.6" cy="272.0" r="1.9" fill="#ea341c"/>
<circle cx="225.3" cy="283.9" r="1.9" fill="#ea341c"/>
<circle cx="226.6" cy="298.2" r="1.9" fill="#ea341c"/>
<circle cx="230.3" cy="356.8" r="1.9" fill="#ea341c"/>
<circle cx="226.2" cy="287.4" r="1.9" fill="#ea341c"/>
<circle cx="224.6" cy="337.2" r="1.9" fill="#ea341c"/>
<circle cx="224.4" cy="288.5" r="1.9" fill="#ea341c"/>
<circle cx="231.4" cy="276.0" r="1.9" fill="#ea341c"/>
<circle cx="226.2" cy="291.7" r="1.9" fill="#ea341c"/>
<circle cx="227.7" cy="337.2" r="1.9" fill="#ea341c"/>
<circle cx="223.0" cy="338.6" r="1.9" fill="#ea341c"/>
<circle cx="177.9" cy="351.3" r="1.9" fill="#ea341c"/>
<circle cx="224.3" cy="350.7" r="1.9" fill="#ea341c"/>
<circle cx="225.4" cy="296.6" r="1.9" fill="#ea341c"/>
<circle cx="224.4" cy="344.7" r="1.9" fill="#ea341c"/>
<circle cx="222.4" cy="350.3" r="1.9" fill="#ea341c"/>
<circle cx="223.0" cy="350.5" r="1.9" fill="#ea341c"/>
<circle cx="227.6" cy="291.0" r="1.9" fill="#ea341c"/>
<circle cx="181.8" cy="355.0" r="1.9" fill="#ea341c"/>
<circle cx="224.5" cy="330.9" r="1.9" fill="#ea341c"/>
<circle cx="225.6" cy="281.8" r="1.9" fill="#ea341c"/>
<circle cx="224.0" cy="293.8" r="1.9" fill="#ea341c"/>
<circle cx="223.2" cy="282.9" r="1.9" fill="#ea341c"/>
<circle cx="226.1" cy="322.9" r="1.9" fill="#ea341c"/>
<circle cx="228.4" cy="146.6" r="1.9" fill="#ea341c"/>
<circle cx="226.5" cy="283.5" r="1.9" fill="#ea341c"/>
<circle cx="149.8" cy="315.6" r="1.9" fill="#ea341c"/>
<circle cx="224.6" cy="333.8" r="1.9" fill="#ea341c"/>
<circle cx="247.5" cy="241.6" r="1.9" fill="#ea341c"/>
<circle cx="227.2" cy="284.4" r="1.9" fill="#ea341c"/>
<circle cx="224.0" cy="312.6" r="1.9" fill="#ea341c"/>
<circle cx="185.5" cy="354.6" r="1.9" fill="#ea341c"/>
<circle cx="177.5" cy="337.6" r="1.9" fill="#ea341c"/>
<circle cx="223.3" cy="348.4" r="1.9" fill="#ea341c"/>
<circle cx="187.4" cy="343.7" r="1.9" fill="#ea341c"/>
<circle cx="223.8" cy="311.5" r="1.9" fill="#ea341c"/>
<circle cx="227.5" cy="308.5" r="1.9" fill="#ea341c"/>
<circle cx="223.5" cy="292.8" r="1.9" fill="#ea341c"/>
<circle cx="225.6" cy="284.9" r="1.9" fill="#ea341c"/>
<circle cx="177.1" cy="347.3" r="1.9" fill="#ea341c"/>
<circle cx="235.5" cy="292.1" r="1.9" fill="#ea341c"/>
<circle cx="181.0" cy="330.0" r="1.9" fill="#ea341c"/>
<circle cx="228.4" cy="301.6" r="1.9" fill="#ea341c"/>
<circle cx="224.1" cy="285.2" r="1.9" fill="#ea341c"/>
<circle cx="223.5" cy="286.6" r="1.9" fill="#ea341c"/>
<circle cx="231.1" cy="302.0" r="1.9" fill="#ea341c"/>
<circle cx="223.5" cy="355.5" r="1.9" fill="#ea341c"/>
<circle cx="226.0" cy="318.2" r="1.9" fill="#ea341c"/>
<circle cx="227.3" cy="282.8" r="1.9" fill="#ea341c"/>
<circle cx="222.6" cy="347.5" r="1.9" fill="#ea341c"/>
<circle cx="224.9" cy="327.1" r="1.9" fill="#ea341c"/>
<circle cx="223.2" cy="346.2" r="1.9" fill="#ea341c"/>
<circle cx="225.9" cy="319.5" r="1.9" fill="#ea341c"/>
<circle cx="225.5" cy="290.4" r="1.9" fill="#ea341c"/>
<circle cx="225.6" cy="305.4" r="1.9" fill="#ea341c"/>
<circle cx="224.6" cy="289.4" r="1.9" fill="#ea341c"/>
<circle cx="224.0" cy="354.1" r="1.9" fill="#ea341c"/>
<circle cx="165.6" cy="331.0" r="1.9" fill="#ea341c"/>
<circle cx="226.5" cy="272.0" r="1.9" fill="#ea341c"/>
<circle cx="225.0" cy="310.4" r="1.9" fill="#ea341c"/>
<circle cx="223.5" cy="325.2" r="1.9" fill="#ea341c"/>
<circle cx="228.8" cy="338.3" r="1.9" fill="#ea341c"/>
<circle cx="225.7" cy="297.9" r="1.9" fill="#ea341c"/>
<circle cx="234.0" cy="342.0" r="1.9" fill="#ea341c"/>
<circle cx="223.7" cy="329.8" r="1.9" fill="#ea341c"/>
<circle cx="211.1" cy="358.5" r="1.9" fill="#4a4a4a"/>
<circle cx="192.1" cy="358.5" r="1.9" fill="#4a4a4a"/>
<circle cx="211.3" cy="358.6" r="1.9" fill="#4a4a4a"/>
<circle cx="198.4" cy="358.6" r="1.9" fill="#4a4a4a"/>
<circle cx="227.5" cy="357.9" r="1.9" fill="#e58a45"/>
<circle cx="186.0" cy="358.3" r="1.9" fill="#e58a45"/>
<circle cx="195.2" cy="358.7" r="1.9" fill="#4a4a4a"/>
<circle cx="210.8" cy="358.5" r="1.9" fill="#4a4a4a"/>
<circle cx="194.7" cy="358.6" r="1.9" fill="#4a4a4a"/>
<circle cx="196.1" cy="358.6" r="1.9" fill="#4a4a4a"/>
<circle cx="197.8" cy="358.6" r="1.9" fill="#4a4a4a"/>
<circle cx="210.5" cy="358.7" r="1.9" fill="#4a4a4a"/>
<circle cx="195.0" cy="358.7" r="1.9" fill="#4a4a4a"/>
<circle cx="194.9" cy="358.7" r="1.9" fill="#4a4a4a"/>
<circle cx="211.0" cy="358.7" r="1.9" fill="#4a4a4a"/>
<circle cx="211.7" cy="358.5" r="1.9" fill="#4a4a4a"/>
<circle cx="212.6" cy="358.7" r="1.9" fill="#4a4a4a"/>
<circle cx="211.0" cy="358.7" r="1.9" fill="#4a4a4a"/>
<circle cx="198.7" cy="358.6" r="1.9" fill="#4a4a4a"/>
<circle cx="212.1" cy="358.6" r="1.9" fill="#4a4a4a"/>
<circle cx="210.5" cy="358.5" r="1.9" fill="#4a4a4a"/>
<circle cx="193.9" cy="358.7" r="1.9" fill="#4a4a4a"/>
<circle cx="192.0" cy="358.5" r="1.9" fill="#4a4a4a"/>
<circle cx="194.6" cy="358.6" r="1.9" fill="#4a4a4a"/>
<circle cx="196.0" cy="358.5" r="1.9" fill="#4a4a4a"/>
<circle cx="195.3" cy="358.6" r="1.9" fill="#4a4a4a"/>
<circle cx="212.2" cy="358.5" r="1.9" fill="#4a4a4a"/>
<circle cx="192.1" cy="358.5" r="1.9" fill="#4a4a4a"/>
<circle cx="212.2" cy="358.5" r="1.9" fill="#4a4a4a"/>
<circle cx="211.4" cy="358.6" r="1.9" fill="#4a4a4a"/>
<circle cx="194.9" cy="358.7" r="1.9" fill="#4a4a4a"/>
<circle cx="198.5" cy="358.7" r="1.9" fill="#4a4a4a"/>
<circle cx="212.1" cy="358.5" r="1.9" fill="#4a4a4a"/>
<circle cx="169.4" cy="358.3" r="1.9" fill="#e58a45"/>
<circle cx="193.5" cy="358.7" r="1.9" fill="#4a4a4a"/>
<circle cx="197.4" cy="358.6" r="1.9" fill="#4a4a4a"/>
<circle cx="211.8" cy="358.7" r="1.9" fill="#4a4a4a"/>
<circle cx="212.3" cy="358.5" r="1.9" fill="#4a4a4a"/>
<circle cx="210.3" cy="358.7" r="1.9" fill="#4a4a4a"/>
<circle cx="210.6" cy="358.5" r="1.9" fill="#4a4a4a"/>
<circle cx="211.6" cy="358.6" r="1.9" fill="#4a4a4a"/>
<circle cx="226.2" cy="358.8" r="1.9" fill="#e58a45"/>
<circle cx="184.5" cy="358.9" r="1.9" fill="#e58a45"/>
<circle cx="198.1" cy="358.7" r="1.9" fill="#4a4a4a"/>
<circle cx="210.5" cy="358.5" r="1.9" fill="#4a4a4a"/>
<circle cx="191.9" cy="358.5" r="1.9" fill="#4a4a4a"/>
<circle cx="195.3" cy="358.5" r="1.9" fill="#4a4a4a"/>
<circle cx="198.4" cy="358.5" r="1.9" fill="#4a4a4a"/>
<circle cx="182.0" cy="358.1" r="1.9" fill="#e58a45"/>
<circle cx="192.8" cy="358.6" r="1.9" fill="#4a4a4a"/>
<circle cx="211.7" cy="358.6" r="1.9" fill="#4a4a4a"/>
<circle cx="195.7" cy="358.6" r="1.9" fill="#4a4a4a"/>
<circle cx="190.7" cy="358.5" r="1.9" fill="#4a4a4a"/>
<circle cx="210.8" cy="358.6" r="1.9" fill="#4a4a4a"/>
<circle cx="196.2" cy="358.6" r="1.9" fill="#4a4a4a"/>
<circle cx="211.6" cy="358.7" r="1.9" fill="#4a4a4a"/>
<circle cx="197.8" cy="358.7" r="1.9" fill="#4a4a4a"/>
<circle cx="194.6" cy="358.6" r="1.9" fill="#4a4a4a"/>
<circle cx="210.8" cy="358.5" r="1.9" fill="#4a4a4a"/>
<circle cx="194.8" cy="358.5" r="1.9" fill="#4a4a4a"/>
<circle cx="185.2" cy="358.0" r="1.9" fill="#e58a45"/>
<circle cx="211.7" cy="358.7" r="1.9" fill="#4a4a4a"/>
<circle cx="193.5" cy="358.6" r="1.9" fill="#4a4a4a"/>
<circle cx="197.2" cy="358.7" r="1.9" fill="#4a4a4a"/>
<circle cx="465.6" cy="358.4" r="1.9" fill="#e58a45"/>
<circle cx="193.8" cy="358.6" r="1.9" fill="#4a4a4a"/>
<circle cx="170.5" cy="357.9" r="1.9" fill="#e58a45"/>
<circle cx="211.8" cy="358.7" r="1.9" fill="#4a4a4a"/>
<circle cx="194.1" cy="358.7" r="1.9" fill="#4a4a4a"/>
<circle cx="194.8" cy="358.6" r="1.9" fill="#4a4a4a"/>
<circle cx="193.1" cy="358.7" r="1.9" fill="#4a4a4a"/>
<circle cx="191.8" cy="358.6" r="1.9" fill="#4a4a4a"/>
<circle cx="190.6" cy="358.5" r="1.9" fill="#4a4a4a"/>
<circle cx="193.4" cy="358.7" r="1.9" fill="#4a4a4a"/>
<circle cx="211.5" cy="358.7" r="1.9" fill="#4a4a4a"/>
<circle cx="183.0" cy="358.0" r="1.9" fill="#e58a45"/>
<circle cx="195.2" cy="358.6" r="1.9" fill="#4a4a4a"/>
<circle cx="191.4" cy="358.6" r="1.9" fill="#4a4a4a"/>
<circle cx="211.5" cy="358.7" r="1.9" fill="#4a4a4a"/>
<circle cx="212.7" cy="358.5" r="1.9" fill="#4a4a4a"/>
<circle cx="195.8" cy="358.5" r="1.9" fill="#4a4a4a"/>
<circle cx="210.4" cy="358.5" r="1.9" fill="#4a4a4a"/>
<circle cx="197.4" cy="358.7" r="1.9" fill="#4a4a4a"/>
<circle cx="194.2" cy="358.6" r="1.9" fill="#4a4a4a"/>
<circle cx="198.1" cy="358.5" r="1.9" fill="#4a4a4a"/>
</g>
<line x1="187.3" x2="187.3" y1="23" y2="374.6" stroke="#6a6a6a" stroke-width="0.8" stroke-dasharray="4.2 2.6"/>
<line x1="221.3" x2="221.3" y1="23" y2="374.6" stroke="#6a6a6a" stroke-width="0.8" stroke-dasharray="4.2 2.6"/>
<line x1="79.0" x2="496" y1="357.6" y2="357.6" stroke="#707070" stroke-width="0.8" stroke-dasharray="4.2 2.6"/>
<g font-size="10" text-anchor="middle" fill="#000">
<text x="245.3" y="133.0">RPS27L</text>
<text x="228.4" y="150.2">MT−ATP8</text>
<text x="241.1" y="188.8">PHPT1</text>
<text x="247.5" y="245.2">NEAT1</text>
<text x="227.5" y="258.0">MDM2</text>
<text x="227.7" y="269.0">TMA7</text>
<text x="241.5" y="279.0">VIM</text>
<text x="227.3" y="286.4">ELOB</text>
<text x="241.1" y="294.1">S100A4</text>
<text x="227.2" y="303.0">TRAC</text>
<text x="227.5" y="312.1">GPRIN3</text>
<text x="228.0" y="323.2">BHLHE40</text>
<text x="237.4" y="333.0">MT2A</text>
<text x="227.7" y="340.8">PTMS</text>
<text x="231.7" y="351.2">TOP2A</text>
<text x="230.3" y="360.4">CYP1B1</text>
<text x="148.2" y="313.6">IGHM</text>
<text x="165.3" y="325.6">MS4A1</text>
<text x="181.0" y="333.6">BANK1</text>
<text x="141.7" y="337.0">S100A9</text>
<text x="151.2" y="345.2">IGLC1</text>
<text x="180.7" y="347.6">IFI30</text>
<text x="176.7" y="356.6">C15orf48</text>
<text x="466.0" y="362.2">HIV−NL−CI</text>
</g>
<line x1="79.0" x2="79.0" y1="23" y2="375.1" stroke="#444" stroke-width="1.3"/>
<line x1="78.5" x2="496" y1="374.6" y2="374.6" stroke="#444" stroke-width="1.3"/>
<g font-size="11.8" fill="#4d4d4d">
<line x1="91.1" x2="91.1" y1="374.6" y2="378.40000000000003" stroke="#444" stroke-width="1"/>
<text x="91.1" y="391.2" text-anchor="middle">−4</text>
<line x1="204.3" x2="204.3" y1="374.6" y2="378.40000000000003" stroke="#444" stroke-width="1"/>
<text x="204.3" y="391.2" text-anchor="middle">0</text>
<line x1="317.5" x2="317.5" y1="374.6" y2="378.40000000000003" stroke="#444" stroke-width="1"/>
<text x="317.5" y="391.2" text-anchor="middle">4</text>
<line x1="430.7" x2="430.7" y1="374.6" y2="378.40000000000003" stroke="#444" stroke-width="1"/>
<text x="430.7" y="391.2" text-anchor="middle">8</text>
<line x1="75.2" x2="79.0" y1="358.4" y2="358.4" stroke="#444" stroke-width="1"/>
<text x="70.2" y="362.9" text-anchor="end">0</text>
<line x1="75.2" x2="79.0" y1="292.3" y2="292.3" stroke="#444" stroke-width="1"/>
<text x="70.2" y="296.8" text-anchor="end">50</text>
<line x1="75.2" x2="79.0" y1="226.2" y2="226.2" stroke="#444" stroke-width="1"/>
<text x="70.2" y="230.7" text-anchor="end">100</text>
<line x1="75.2" x2="79.0" y1="160.1" y2="160.1" stroke="#444" stroke-width="1"/>
<text x="70.2" y="164.6" text-anchor="end">150</text>
<line x1="75.2" x2="79.0" y1="94.0" y2="94.0" stroke="#444" stroke-width="1"/>
<text x="70.2" y="98.5" text-anchor="end">200</text>
<line x1="75.2" x2="79.0" y1="27.9" y2="27.9" stroke="#444" stroke-width="1"/>
<text x="70.2" y="32.4" text-anchor="end">250</text>
</g>
<text x="79.0" y="14.4" font-size="12" fill="#000" text-anchor="start" font-weight="bold">Infected vs Unexposed in all cells</text>
<text x="260.6" y="407.3" font-size="11.9" fill="#111" xml:space="preserve">Log<tspan font-size="8.4" dy="3.2">2 </tspan><tspan dy="-3.2">fold change</tspan></text>
<text transform="translate(37.6,230) rotate(-90)" font-size="11.9" fill="#111" text-anchor="start" xml:space="preserve">- Log<tspan font-size="8.4" dy="3.2">10</tspan><tspan dy="-3.2"> </tspan><tspan font-style="italic">FDR</tspan></text>
</g>
<g>
<line x1="626.0" x2="626.0" y1="22" y2="374.5" stroke="#e9e9e9" stroke-width="0.8"/>
<line x1="731.0" x2="731.0" y1="22" y2="374.5" stroke="#e9e9e9" stroke-width="0.8"/>
<line x1="836.0" x2="836.0" y1="22" y2="374.5" stroke="#e9e9e9" stroke-width="0.8"/>
<line x1="941.0" x2="941.0" y1="22" y2="374.5" stroke="#e9e9e9" stroke-width="0.8"/>
<line x1="589.4" x2="1039.4" y1="298.1" y2="298.1" stroke="#e9e9e9" stroke-width="0.8"/>
<line x1="589.4" x2="1039.4" y1="178.1" y2="178.1" stroke="#e9e9e9" stroke-width="0.8"/>
<line x1="589.4" x2="1039.4" y1="58.1" y2="58.1" stroke="#e9e9e9" stroke-width="0.8"/>
<line x1="678.5" x2="678.5" y1="22" y2="374.5" stroke="#e7e7e7" stroke-width="1.5"/>
<line x1="783.5" x2="783.5" y1="22" y2="374.5" stroke="#e7e7e7" stroke-width="1.5"/>
<line x1="888.5" x2="888.5" y1="22" y2="374.5" stroke="#e7e7e7" stroke-width="1.5"/>
<line x1="993.5" x2="993.5" y1="22" y2="374.5" stroke="#e7e7e7" stroke-width="1.5"/>
<line x1="589.4" x2="1039.4" y1="358.1" y2="358.1" stroke="#e7e7e7" stroke-width="1.5"/>
<line x1="589.4" x2="1039.4" y1="238.1" y2="238.1" stroke="#e7e7e7" stroke-width="1.5"/>
<line x1="589.4" x2="1039.4" y1="118.1" y2="118.1" stroke="#e7e7e7" stroke-width="1.5"/>
<g fill-opacity="0.72">
<circle cx="763.4" cy="357.0" r="1.9" fill="#f2707a"/>
<circle cx="765.3" cy="357.0" r="1.9" fill="#f2707a"/>
<circle cx="767.3" cy="357.6" r="1.9" fill="#f2707a"/>
<circle cx="769.2" cy="356.9" r="1.9" fill="#f2707a"/>
<circle cx="769.3" cy="358.0" r="1.9" fill="#f2707a"/>
<circle cx="771.0" cy="357.8" r="1.9" fill="#f2707a"/>
<circle cx="772.5" cy="357.1" r="1.9" fill="#f2707a"/>
<circle cx="763.4" cy="356.3" r="1.9" fill="#f2707a"/>
<circle cx="764.7" cy="356.7" r="1.9" fill="#f2707a"/>
<circle cx="766.7" cy="355.9" r="1.9" fill="#f2707a"/>
<circle cx="768.2" cy="355.6" r="1.9" fill="#f2707a"/>
<circle cx="769.9" cy="355.8" r="1.9" fill="#f2707a"/>
<circle cx="770.0" cy="356.9" r="1.9" fill="#f2707a"/>
<circle cx="772.7" cy="355.5" r="1.9" fill="#f2707a"/>
<circle cx="760.3" cy="355.1" r="1.9" fill="#f2707a"/>
<circle cx="762.0" cy="355.5" r="1.9" fill="#f2707a"/>
<circle cx="764.4" cy="355.6" r="1.9" fill="#f2707a"/>
<circle cx="764.9" cy="355.3" r="1.9" fill="#f2707a"/>
<circle cx="766.1" cy="354.8" r="1.9" fill="#f2707a"/>
<circle cx="768.2" cy="354.2" r="1.9" fill="#f2707a"/>
<circle cx="770.6" cy="354.5" r="1.9" fill="#f2707a"/>
<circle cx="770.7" cy="354.8" r="1.9" fill="#f2707a"/>
<circle cx="772.7" cy="354.3" r="1.9" fill="#f2707a"/>
<circle cx="761.9" cy="353.5" r="1.9" fill="#f2707a"/>
<circle cx="762.8" cy="353.5" r="1.9" fill="#f2707a"/>
<circle cx="764.3" cy="353.0" r="1.9" fill="#f2707a"/>
<circle cx="766.6" cy="353.9" r="1.9" fill="#f2707a"/>
<circle cx="767.0" cy="353.1" r="1.9" fill="#f2707a"/>
<circle cx="768.3" cy="353.5" r="1.9" fill="#f2707a"/>
<circle cx="770.6" cy="353.3" r="1.9" fill="#f2707a"/>
<circle cx="772.3" cy="353.7" r="1.9" fill="#f2707a"/>
<circle cx="763.0" cy="352.8" r="1.9" fill="#f2707a"/>
<circle cx="763.6" cy="351.9" r="1.9" fill="#f2707a"/>
<circle cx="766.0" cy="352.0" r="1.9" fill="#f2707a"/>
<circle cx="766.6" cy="351.6" r="1.9" fill="#f2707a"/>
<circle cx="767.4" cy="352.4" r="1.9" fill="#f2707a"/>
<circle cx="769.3" cy="352.4" r="1.9" fill="#f2707a"/>
<circle cx="770.8" cy="351.7" r="1.9" fill="#f2707a"/>
<circle cx="773.3" cy="352.6" r="1.9" fill="#f2707a"/>
<circle cx="761.7" cy="350.6" r="1.9" fill="#f2707a"/>
<circle cx="763.0" cy="350.6" r="1.9" fill="#f2707a"/>
<circle cx="763.6" cy="351.3" r="1.9" fill="#f2707a"/>
<circle cx="765.9" cy="351.0" r="1.9" fill="#f2707a"/>
<circle cx="767.0" cy="351.1" r="1.9" fill="#f2707a"/>
<circle cx="768.7" cy="351.2" r="1.9" fill="#f2707a"/>
<circle cx="770.5" cy="351.1" r="1.9" fill="#f2707a"/>
<circle cx="771.6" cy="351.1" r="1.9" fill="#f2707a"/>
<circle cx="760.8" cy="349.2" r="1.9" fill="#f2707a"/>
<circle cx="764.0" cy="349.6" r="1.9" fill="#f2707a"/>
<circle cx="764.7" cy="349.0" r="1.9" fill="#f2707a"/>
<circle cx="766.7" cy="349.6" r="1.9" fill="#f2707a"/>
<circle cx="768.6" cy="349.2" r="1.9" fill="#f2707a"/>
<circle cx="770.1" cy="349.5" r="1.9" fill="#f2707a"/>
<circle cx="771.7" cy="350.2" r="1.9" fill="#f2707a"/>
<circle cx="771.9" cy="349.4" r="1.9" fill="#f2707a"/>
<circle cx="762.3" cy="347.9" r="1.9" fill="#f2707a"/>
<circle cx="764.1" cy="348.8" r="1.9" fill="#f2707a"/>
<circle cx="765.8" cy="347.6" r="1.9" fill="#f2707a"/>
<circle cx="768.1" cy="348.6" r="1.9" fill="#f2707a"/>
<circle cx="768.8" cy="348.7" r="1.9" fill="#f2707a"/>
<circle cx="769.8" cy="348.6" r="1.9" fill="#f2707a"/>
<circle cx="771.9" cy="347.8" r="1.9" fill="#f2707a"/>
<circle cx="760.4" cy="346.2" r="1.9" fill="#f2707a"/>
<circle cx="762.2" cy="346.3" r="1.9" fill="#f2707a"/>
<circle cx="763.9" cy="346.6" r="1.9" fill="#f2707a"/>
<circle cx="764.6" cy="347.5" r="1.9" fill="#f2707a"/>
<circle cx="766.8" cy="347.5" r="1.9" fill="#f2707a"/>
<circle cx="767.9" cy="347.4" r="1.9" fill="#f2707a"/>
<circle cx="769.3" cy="346.2" r="1.9" fill="#f2707a"/>
<circle cx="770.8" cy="347.3" r="1.9" fill="#f2707a"/>
<circle cx="772.4" cy="347.2" r="1.9" fill="#f2707a"/>
<circle cx="761.1" cy="345.8" r="1.9" fill="#f2707a"/>
<circle cx="765.0" cy="346.0" r="1.9" fill="#f2707a"/>
<circle cx="766.0" cy="345.4" r="1.9" fill="#f2707a"/>
<circle cx="767.7" cy="345.5" r="1.9" fill="#f2707a"/>
<circle cx="768.7" cy="346.3" r="1.9" fill="#f2707a"/>
<circle cx="769.5" cy="345.8" r="1.9" fill="#f2707a"/>
<circle cx="771.7" cy="346.2" r="1.9" fill="#f2707a"/>
<circle cx="773.2" cy="346.3" r="1.9" fill="#f2707a"/>
<circle cx="760.5" cy="344.9" r="1.9" fill="#f2707a"/>
<circle cx="762.3" cy="344.2" r="1.9" fill="#f2707a"/>
<circle cx="763.7" cy="344.4" r="1.9" fill="#f2707a"/>
<circle cx="765.4" cy="343.7" r="1.9" fill="#f2707a"/>
<circle cx="765.8" cy="344.9" r="1.9" fill="#f2707a"/>
<circle cx="767.3" cy="344.8" r="1.9" fill="#f2707a"/>
<circle cx="768.7" cy="344.6" r="1.9" fill="#f2707a"/>
<circle cx="770.9" cy="343.6" r="1.9" fill="#f2707a"/>
<circle cx="772.3" cy="344.5" r="1.9" fill="#f2707a"/>
<circle cx="762.1" cy="342.8" r="1.9" fill="#f2707a"/>
<circle cx="763.4" cy="343.8" r="1.9" fill="#f2707a"/>
<circle cx="765.3" cy="342.7" r="1.9" fill="#f2707a"/>
<circle cx="767.7" cy="343.1" r="1.9" fill="#f2707a"/>
<circle cx="768.5" cy="342.3" r="1.9" fill="#f2707a"/>
<circle cx="770.8" cy="343.5" r="1.9" fill="#f2707a"/>
<circle cx="771.3" cy="342.6" r="1.9" fill="#f2707a"/>
<circle cx="773.2" cy="342.8" r="1.9" fill="#f2707a"/>
<circle cx="760.5" cy="341.5" r="1.9" fill="#f2707a"/>
<circle cx="764.0" cy="341.8" r="1.9" fill="#f2707a"/>
<circle cx="764.6" cy="341.8" r="1.9" fill="#f2707a"/>
<circle cx="766.5" cy="341.5" r="1.9" fill="#f2707a"/>
<circle cx="768.4" cy="341.4" r="1.9" fill="#f2707a"/>
<circle cx="769.9" cy="341.9" r="1.9" fill="#f2707a"/>
<circle cx="771.6" cy="341.7" r="1.9" fill="#f2707a"/>
<circle cx="771.7" cy="341.6" r="1.9" fill="#f2707a"/>
<circle cx="761.7" cy="339.8" r="1.9" fill="#f2707a"/>
<circle cx="762.1" cy="341.1" r="1.9" fill="#f2707a"/>
<circle cx="764.6" cy="340.4" r="1.9" fill="#f2707a"/>
<circle cx="765.9" cy="340.1" r="1.9" fill="#f2707a"/>
<circle cx="767.6" cy="339.9" r="1.9" fill="#f2707a"/>
<circle cx="768.1" cy="339.8" r="1.9" fill="#f2707a"/>
<circle cx="770.5" cy="341.2" r="1.9" fill="#f2707a"/>
<circle cx="771.8" cy="340.0" r="1.9" fill="#f2707a"/>
<circle cx="773.4" cy="339.9" r="1.9" fill="#f2707a"/>
<circle cx="759.1" cy="338.4" r="1.9" fill="#f2707a"/>
<circle cx="761.4" cy="339.3" r="1.9" fill="#f2707a"/>
<circle cx="763.4" cy="338.6" r="1.9" fill="#f2707a"/>
<circle cx="764.5" cy="339.7" r="1.9" fill="#f2707a"/>
<circle cx="766.8" cy="339.9" r="1.9" fill="#f2707a"/>
<circle cx="767.0" cy="338.9" r="1.9" fill="#f2707a"/>
<circle cx="768.9" cy="339.2" r="1.9" fill="#f2707a"/>
<circle cx="770.7" cy="339.5" r="1.9" fill="#f2707a"/>
<circle cx="772.6" cy="338.5" r="1.9" fill="#f2707a"/>
<circle cx="761.7" cy="338.6" r="1.9" fill="#f2707a"/>
<circle cx="763.7" cy="337.6" r="1.9" fill="#f2707a"/>
<circle cx="765.5" cy="338.5" r="1.9" fill="#f2707a"/>
<circle cx="767.0" cy="338.4" r="1.9" fill="#f2707a"/>
<circle cx="768.6" cy="337.2" r="1.9" fill="#f2707a"/>
<circle cx="769.6" cy="338.5" r="1.9" fill="#f2707a"/>
<circle cx="771.1" cy="338.5" r="1.9" fill="#f2707a"/>
<circle cx="773.2" cy="338.6" r="1.9" fill="#f2707a"/>
<circle cx="761.0" cy="336.3" r="1.9" fill="#f2707a"/>
<circle cx="762.8" cy="336.9" r="1.9" fill="#f2707a"/>
<circle cx="765.2" cy="336.2" r="1.9" fill="#f2707a"/>
<circle cx="766.3" cy="335.9" r="1.9" fill="#f2707a"/>
<circle cx="768.2" cy="336.7" r="1.9" fill="#f2707a"/>
<circle cx="768.5" cy="336.5" r="1.9" fill="#f2707a"/>
<circle cx="770.9" cy="335.9" r="1.9" fill="#f2707a"/>
<circle cx="772.0" cy="336.3" r="1.9" fill="#f2707a"/>
<circle cx="760.4" cy="335.9" r="1.9" fill="#f2707a"/>
<circle cx="763.0" cy="335.8" r="1.9" fill="#f2707a"/>
<circle cx="763.4" cy="334.6" r="1.9" fill="#f2707a"/>
<circle cx="764.8" cy="335.2" r="1.9" fill="#f2707a"/>
<circle cx="766.3" cy="335.2" r="1.9" fill="#f2707a"/>
<circle cx="768.5" cy="335.2" r="1.9" fill="#f2707a"/>
<circle cx="769.4" cy="335.1" r="1.9" fill="#f2707a"/>
<circle cx="770.8" cy="334.8" r="1.9" fill="#f2707a"/>
<circle cx="772.9" cy="335.8" r="1.9" fill="#f2707a"/>
<circle cx="759.3" cy="333.9" r="1.9" fill="#f2707a"/>
<circle cx="761.9" cy="333.5" r="1.9" fill="#f2707a"/>
<circle cx="762.6" cy="333.5" r="1.9" fill="#f2707a"/>
<circle cx="764.5" cy="333.9" r="1.9" fill="#f2707a"/>
<circle cx="766.8" cy="333.2" r="1.9" fill="#f2707a"/>
<circle cx="767.2" cy="334.1" r="1.9" fill="#f2707a"/>
<circle cx="769.5" cy="333.2" r="1.9" fill="#f2707a"/>
<circle cx="770.8" cy="334.7" r="1.9" fill="#f2707a"/>
<circle cx="772.3" cy="334.2" r="1.9" fill="#f2707a"/>
<circle cx="761.3" cy="332.5" r="1.9" fill="#f2707a"/>
<circle cx="764.5" cy="332.5" r="1.9" fill="#f2707a"/>
<circle cx="764.7" cy="332.2" r="1.9" fill="#f2707a"/>
<circle cx="767.1" cy="332.0" r="1.9" fill="#f2707a"/>
<circle cx="767.8" cy="332.1" r="1.9" fill="#f2707a"/>
<circle cx="769.6" cy="333.4" r="1.9" fill="#f2707a"/>
<circle cx="771.8" cy="332.6" r="1.9" fill="#f2707a"/>
<circle cx="773.3" cy="333.3" r="1.9" fill="#f2707a"/>
<circle cx="761.7" cy="331.9" r="1.9" fill="#f2707a"/>
<circle cx="762.4" cy="331.6" r="1.9" fill="#f2707a"/>
<circle cx="764.0" cy="332.0" r="1.9" fill="#f2707a"/>
<circle cx="766.4" cy="330.7" r="1.9" fill="#f2707a"/>
<circle cx="768.2" cy="331.9" r="1.9" fill="#f2707a"/>
<circle cx="769.6" cy="331.8" r="1.9" fill="#f2707a"/>
<circle cx="770.4" cy="331.8" r="1.9" fill="#f2707a"/>
<circle cx="772.6" cy="331.0" r="1.9" fill="#f2707a"/>
<circle cx="761.5" cy="329.4" r="1.9" fill="#f2707a"/>
<circle cx="763.4" cy="330.5" r="1.9" fill="#f2707a"/>
<circle cx="764.8" cy="329.9" r="1.9" fill="#f2707a"/>
<circle cx="766.7" cy="330.6" r="1.9" fill="#f2707a"/>
<circle cx="768.6" cy="329.8" r="1.9" fill="#f2707a"/>
<circle cx="770.2" cy="330.3" r="1.9" fill="#f2707a"/>
<circle cx="771.8" cy="329.8" r="1.9" fill="#f2707a"/>
<circle cx="773.0" cy="330.5" r="1.9" fill="#f2707a"/>
<circle cx="762.2" cy="328.7" r="1.9" fill="#f2707a"/>
<circle cx="763.9" cy="329.2" r="1.9" fill="#f2707a"/>
<circle cx="766.1" cy="328.6" r="1.9" fill="#f2707a"/>
<circle cx="767.0" cy="328.5" r="1.9" fill="#f2707a"/>
<circle cx="769.2" cy="328.4" r="1.9" fill="#f2707a"/>
<circle cx="770.1" cy="329.0" r="1.9" fill="#f2707a"/>
<circle cx="772.2" cy="329.2" r="1.9" fill="#f2707a"/>
<circle cx="759.5" cy="326.7" r="1.9" fill="#f2707a"/>
<circle cx="761.8" cy="328.1" r="1.9" fill="#f2707a"/>
<circle cx="763.3" cy="328.0" r="1.9" fill="#f2707a"/>
<circle cx="765.8" cy="327.2" r="1.9" fill="#f2707a"/>
<circle cx="767.4" cy="327.4" r="1.9" fill="#f2707a"/>
<circle cx="767.7" cy="327.9" r="1.9" fill="#f2707a"/>
<circle cx="769.7" cy="326.6" r="1.9" fill="#f2707a"/>
<circle cx="771.9" cy="327.3" r="1.9" fill="#f2707a"/>
<circle cx="772.3" cy="327.1" r="1.9" fill="#f2707a"/>
<circle cx="758.5" cy="326.7" r="1.9" fill="#f2707a"/>
<circle cx="762.1" cy="326.7" r="1.9" fill="#f2707a"/>
<circle cx="762.3" cy="326.3" r="1.9" fill="#f2707a"/>
<circle cx="765.2" cy="325.9" r="1.9" fill="#f2707a"/>
<circle cx="766.1" cy="325.9" r="1.9" fill="#f2707a"/>
<circle cx="767.7" cy="326.7" r="1.9" fill="#f2707a"/>
<circle cx="768.7" cy="326.8" r="1.9" fill="#f2707a"/>
<circle cx="771.0" cy="326.4" r="1.9" fill="#f2707a"/>
<circle cx="771.9" cy="326.5" r="1.9" fill="#f2707a"/>
<circle cx="761.4" cy="324.5" r="1.9" fill="#f2707a"/>
<circle cx="764.4" cy="325.4" r="1.9" fill="#f2707a"/>
<circle cx="765.3" cy="324.9" r="1.9" fill="#f2707a"/>
<circle cx="766.5" cy="325.2" r="1.9" fill="#f2707a"/>
<circle cx="767.8" cy="325.2" r="1.9" fill="#f2707a"/>
<circle cx="769.7" cy="324.6" r="1.9" fill="#f2707a"/>
<circle cx="771.4" cy="325.3" r="1.9" fill="#f2707a"/>
<circle cx="772.5" cy="325.5" r="1.9" fill="#f2707a"/>
<circle cx="760.9" cy="323.6" r="1.9" fill="#f2707a"/>
<circle cx="763.4" cy="323.2" r="1.9" fill="#f2707a"/>
<circle cx="764.4" cy="324.1" r="1.9" fill="#f2707a"/>
<circle cx="766.3" cy="322.9" r="1.9" fill="#f2707a"/>
<circle cx="766.7" cy="323.1" r="1.9" fill="#f2707a"/>
<circle cx="769.6" cy="324.2" r="1.9" fill="#f2707a"/>
<circle cx="770.1" cy="324.2" r="1.9" fill="#f2707a"/>
<circle cx="771.6" cy="323.4" r="1.9" fill="#f2707a"/>
<circle cx="758.7" cy="322.0" r="1.9" fill="#f2707a"/>
<circle cx="761.4" cy="321.8" r="1.9" fill="#f2707a"/>
<circle cx="762.8" cy="322.1" r="1.9" fill="#f2707a"/>
<circle cx="763.8" cy="322.6" r="1.9" fill="#f2707a"/>
<circle cx="764.6" cy="322.6" r="1.9" fill="#f2707a"/>
<circle cx="766.7" cy="322.4" r="1.9" fill="#f2707a"/>
<circle cx="767.8" cy="321.9" r="1.9" fill="#f2707a"/>
<circle cx="769.7" cy="321.8" r="1.9" fill="#f2707a"/>
<circle cx="770.7" cy="322.6" r="1.9" fill="#f2707a"/>
<circle cx="773.1" cy="322.3" r="1.9" fill="#f2707a"/>
<circle cx="760.9" cy="320.2" r="1.9" fill="#f2707a"/>
<circle cx="763.3" cy="321.1" r="1.9" fill="#f2707a"/>
<circle cx="764.8" cy="320.2" r="1.9" fill="#f2707a"/>
<circle cx="766.1" cy="321.6" r="1.9" fill="#f2707a"/>
<circle cx="767.7" cy="321.3" r="1.9" fill="#f2707a"/>
<circle cx="769.6" cy="321.2" r="1.9" fill="#f2707a"/>
<circle cx="770.2" cy="321.3" r="1.9" fill="#f2707a"/>
<circle cx="771.3" cy="321.5" r="1.9" fill="#f2707a"/>
<circle cx="760.8" cy="320.2" r="1.9" fill="#f2707a"/>
<circle cx="761.8" cy="318.9" r="1.9" fill="#f2707a"/>
<circle cx="763.6" cy="320.1" r="1.9" fill="#f2707a"/>
<circle cx="765.2" cy="319.4" r="1.9" fill="#f2707a"/>
<circle cx="766.2" cy="320.1" r="1.9" fill="#f2707a"/>
<circle cx="768.6" cy="319.0" r="1.9" fill="#f2707a"/>
<circle cx="770.0" cy="319.6" r="1.9" fill="#f2707a"/>
<circle cx="771.7" cy="319.9" r="1.9" fill="#f2707a"/>
<circle cx="772.8" cy="320.2" r="1.9" fill="#f2707a"/>
<circle cx="758.6" cy="318.6" r="1.9" fill="#f2707a"/>
<circle cx="760.6" cy="318.4" r="1.9" fill="#f2707a"/>
<circle cx="762.4" cy="317.8" r="1.9" fill="#f2707a"/>
<circle cx="763.7" cy="318.5" r="1.9" fill="#f2707a"/>
<circle cx="766.3" cy="318.0" r="1.9" fill="#f2707a"/>
<circle cx="766.6" cy="318.8" r="1.9" fill="#f2707a"/>
<circle cx="768.0" cy="318.5" r="1.9" fill="#f2707a"/>
<circle cx="769.9" cy="317.5" r="1.9" fill="#f2707a"/>
<circle cx="771.9" cy="318.7" r="1.9" fill="#f2707a"/>
<circle cx="759.6" cy="316.3" r="1.9" fill="#f2707a"/>
<circle cx="760.7" cy="316.7" r="1.9" fill="#f2707a"/>
<circle cx="762.1" cy="316.5" r="1.9" fill="#f2707a"/>
<circle cx="763.1" cy="317.5" r="1.9" fill="#f2707a"/>
<circle cx="765.1" cy="316.2" r="1.9" fill="#f2707a"/>
<circle cx="765.8" cy="317.0" r="1.9" fill="#f2707a"/>
<circle cx="767.3" cy="317.2" r="1.9" fill="#f2707a"/>
<circle cx="769.7" cy="316.8" r="1.9" fill="#f2707a"/>
<circle cx="771.2" cy="316.5" r="1.9" fill="#f2707a"/>
<circle cx="773.3" cy="317.4" r="1.9" fill="#f2707a"/>
<circle cx="760.5" cy="315.0" r="1.9" fill="#f2707a"/>
<circle cx="760.7" cy="315.6" r="1.9" fill="#f2707a"/>
<circle cx="763.1" cy="315.6" r="1.9" fill="#f2707a"/>
<circle cx="763.8" cy="315.5" r="1.9" fill="#f2707a"/>
<circle cx="765.3" cy="316.0" r="1.9" fill="#f2707a"/>
<circle cx="767.2" cy="315.2" r="1.9" fill="#f2707a"/>
<circle cx="768.3" cy="315.3" r="1.9" fill="#f2707a"/>
<circle cx="770.6" cy="316.4" r="1.9" fill="#f2707a"/>
<circle cx="772.5" cy="316.3" r="1.9" fill="#f2707a"/>
<circle cx="761.5" cy="313.6" r="1.9" fill="#f2707a"/>
<circle cx="763.8" cy="314.5" r="1.9" fill="#f2707a"/>
<circle cx="764.8" cy="313.8" r="1.9" fill="#f2707a"/>
<circle cx="767.3" cy="314.0" r="1.9" fill="#f2707a"/>
<circle cx="767.5" cy="314.1" r="1.9" fill="#f2707a"/>
<circle cx="770.0" cy="314.3" r="1.9" fill="#f2707a"/>
<circle cx="770.4" cy="313.8" r="1.9" fill="#f2707a"/>
<circle cx="772.4" cy="315.1" r="1.9" fill="#f2707a"/>
<circle cx="761.7" cy="312.4" r="1.9" fill="#f2707a"/>
<circle cx="762.8" cy="313.0" r="1.9" fill="#f2707a"/>
<circle cx="763.8" cy="312.3" r="1.9" fill="#f2707a"/>
<circle cx="766.1" cy="313.7" r="1.9" fill="#f2707a"/>
<circle cx="767.1" cy="313.4" r="1.9" fill="#f2707a"/>
<circle cx="769.2" cy="313.6" r="1.9" fill="#f2707a"/>
<circle cx="769.4" cy="312.6" r="1.9" fill="#f2707a"/>
<circle cx="771.5" cy="312.2" r="1.9" fill="#f2707a"/>
<circle cx="761.2" cy="312.3" r="1.9" fill="#f2707a"/>
<circle cx="762.8" cy="311.4" r="1.9" fill="#f2707a"/>
<circle cx="765.6" cy="311.7" r="1.9" fill="#f2707a"/>
<circle cx="766.0" cy="311.3" r="1.9" fill="#f2707a"/>
<circle cx="767.8" cy="311.1" r="1.9" fill="#f2707a"/>
<circle cx="768.8" cy="311.2" r="1.9" fill="#f2707a"/>
<circle cx="771.1" cy="311.9" r="1.9" fill="#f2707a"/>
<circle cx="772.3" cy="311.0" r="1.9" fill="#f2707a"/>
<circle cx="759.6" cy="310.3" r="1.9" fill="#f2707a"/>
<circle cx="761.5" cy="310.0" r="1.9" fill="#f2707a"/>
<circle cx="763.0" cy="310.4" r="1.9" fill="#f2707a"/>
<circle cx="764.8" cy="310.6" r="1.9" fill="#f2707a"/>
<circle cx="765.3" cy="311.2" r="1.9" fill="#f2707a"/>
<circle cx="767.0" cy="310.9" r="1.9" fill="#f2707a"/>
<circle cx="768.9" cy="310.8" r="1.9" fill="#f2707a"/>
<circle cx="769.5" cy="311.2" r="1.9" fill="#f2707a"/>
<circle cx="770.9" cy="309.7" r="1.9" fill="#f2707a"/>
<circle cx="759.6" cy="308.7" r="1.9" fill="#f2707a"/>
<circle cx="764.1" cy="308.7" r="1.9" fill="#f2707a"/>
<circle cx="764.1" cy="309.5" r="1.9" fill="#f2707a"/>
<circle cx="767.2" cy="309.5" r="1.9" fill="#f2707a"/>
<circle cx="768.4" cy="308.6" r="1.9" fill="#f2707a"/>
<circle cx="768.8" cy="309.6" r="1.9" fill="#f2707a"/>
<circle cx="771.6" cy="308.3" r="1.9" fill="#f2707a"/>
<circle cx="772.5" cy="309.6" r="1.9" fill="#f2707a"/>
<circle cx="761.6" cy="307.1" r="1.9" fill="#f2707a"/>
<circle cx="762.7" cy="307.5" r="1.9" fill="#f2707a"/>
<circle cx="763.3" cy="308.2" r="1.9" fill="#f2707a"/>
<circle cx="766.2" cy="308.3" r="1.9" fill="#f2707a"/>
<circle cx="766.5" cy="308.1" r="1.9" fill="#f2707a"/>
<circle cx="768.5" cy="307.2" r="1.9" fill="#f2707a"/>
<circle cx="770.2" cy="307.6" r="1.9" fill="#f2707a"/>
<circle cx="772.0" cy="308.4" r="1.9" fill="#f2707a"/>
<circle cx="772.5" cy="307.6" r="1.9" fill="#f2707a"/>
<circle cx="759.3" cy="305.9" r="1.9" fill="#f2707a"/>
<circle cx="761.1" cy="306.9" r="1.9" fill="#f2707a"/>
<circle cx="761.2" cy="305.9" r="1.9" fill="#f2707a"/>
<circle cx="763.5" cy="306.5" r="1.9" fill="#f2707a"/>
<circle cx="764.7" cy="306.7" r="1.9" fill="#f2707a"/>
<circle cx="767.0" cy="306.9" r="1.9" fill="#f2707a"/>
<circle cx="768.5" cy="307.0" r="1.9" fill="#f2707a"/>
<circle cx="768.6" cy="306.8" r="1.9" fill="#f2707a"/>
<circle cx="770.7" cy="307.1" r="1.9" fill="#f2707a"/>
<circle cx="773.1" cy="306.4" r="1.9" fill="#f2707a"/>
<circle cx="759.3" cy="305.0" r="1.9" fill="#f2707a"/>
<circle cx="760.4" cy="305.1" r="1.9" fill="#f2707a"/>
<circle cx="762.8" cy="305.9" r="1.9" fill="#f2707a"/>
<circle cx="764.6" cy="306.0" r="1.9" fill="#f2707a"/>
<circle cx="765.2" cy="304.8" r="1.9" fill="#f2707a"/>
<circle cx="766.3" cy="304.8" r="1.9" fill="#f2707a"/>
<circle cx="769.3" cy="304.9" r="1.9" fill="#f2707a"/>
<circle cx="770.5" cy="305.8" r="1.9" fill="#f2707a"/>
<circle cx="771.6" cy="304.6" r="1.9" fill="#f2707a"/>
<circle cx="772.8" cy="305.4" r="1.9" fill="#f2707a"/>
<circle cx="758.9" cy="304.6" r="1.9" fill="#f2707a"/>
<circle cx="760.4" cy="304.1" r="1.9" fill="#f2707a"/>
<circle cx="762.5" cy="303.7" r="1.9" fill="#f2707a"/>
<circle cx="763.6" cy="304.6" r="1.9" fill="#f2707a"/>
<circle cx="764.4" cy="303.6" r="1.9" fill="#f2707a"/>
<circle cx="765.5" cy="303.5" r="1.9" fill="#f2707a"/>
<circle cx="768.6" cy="303.4" r="1.9" fill="#f2707a"/>
<circle cx="769.6" cy="304.2" r="1.9" fill="#f2707a"/>
<circle cx="771.2" cy="303.5" r="1.9" fill="#f2707a"/>
<circle cx="771.6" cy="304.2" r="1.9" fill="#f2707a"/>
<circle cx="757.7" cy="303.3" r="1.9" fill="#f2707a"/>
<circle cx="761.3" cy="302.7" r="1.9" fill="#f2707a"/>
<circle cx="762.2" cy="301.9" r="1.9" fill="#f2707a"/>
<circle cx="763.3" cy="302.4" r="1.9" fill="#f2707a"/>
<circle cx="764.9" cy="302.6" r="1.9" fill="#f2707a"/>
<circle cx="767.3" cy="302.2" r="1.9" fill="#f2707a"/>
<circle cx="768.0" cy="302.0" r="1.9" fill="#f2707a"/>
<circle cx="769.9" cy="302.9" r="1.9" fill="#f2707a"/>
<circle cx="771.9" cy="301.9" r="1.9" fill="#f2707a"/>
<circle cx="772.8" cy="303.1" r="1.9" fill="#f2707a"/>
<circle cx="759.3" cy="300.8" r="1.9" fill="#f2707a"/>
<circle cx="762.0" cy="300.9" r="1.9" fill="#f2707a"/>
<circle cx="762.8" cy="301.9" r="1.9" fill="#f2707a"/>
<circle cx="765.0" cy="301.4" r="1.9" fill="#f2707a"/>
<circle cx="765.8" cy="300.7" r="1.9" fill="#f2707a"/>
<circle cx="768.5" cy="301.1" r="1.9" fill="#f2707a"/>
<circle cx="769.4" cy="300.8" r="1.9" fill="#f2707a"/>
<circle cx="770.0" cy="301.8" r="1.9" fill="#f2707a"/>
<circle cx="773.0" cy="301.1" r="1.9" fill="#f2707a"/>
<circle cx="760.0" cy="299.6" r="1.9" fill="#f2707a"/>
<circle cx="761.0" cy="299.4" r="1.9" fill="#f2707a"/>
<circle cx="763.0" cy="299.6" r="1.9" fill="#f2707a"/>
<circle cx="764.4" cy="299.5" r="1.9" fill="#f2707a"/>
<circle cx="765.0" cy="299.8" r="1.9" fill="#f2707a"/>
<circle cx="767.2" cy="299.9" r="1.9" fill="#f2707a"/>
<circle cx="767.8" cy="300.2" r="1.9" fill="#f2707a"/>
<circle cx="769.6" cy="299.2" r="1.9" fill="#f2707a"/>
<circle cx="770.9" cy="299.9" r="1.9" fill="#f2707a"/>
<circle cx="772.3" cy="299.4" r="1.9" fill="#f2707a"/>
<circle cx="759.8" cy="298.6" r="1.9" fill="#f2707a"/>
<circle cx="761.0" cy="298.5" r="1.9" fill="#f2707a"/>
<circle cx="763.9" cy="298.8" r="1.9" fill="#f2707a"/>
<circle cx="764.3" cy="299.1" r="1.9" fill="#f2707a"/>
<circle cx="766.8" cy="299.4" r="1.9" fill="#f2707a"/>
<circle cx="767.1" cy="299.4" r="1.9" fill="#f2707a"/>
<circle cx="768.8" cy="298.1" r="1.9" fill="#f2707a"/>
<circle cx="770.2" cy="298.0" r="1.9" fill="#f2707a"/>
<circle cx="772.9" cy="298.6" r="1.9" fill="#f2707a"/>
<circle cx="759.3" cy="297.1" r="1.9" fill="#f2707a"/>
<circle cx="761.2" cy="297.1" r="1.9" fill="#f2707a"/>
<circle cx="763.2" cy="297.3" r="1.9" fill="#f2707a"/>
<circle cx="763.1" cy="297.6" r="1.9" fill="#f2707a"/>
<circle cx="764.7" cy="297.3" r="1.9" fill="#f2707a"/>
<circle cx="767.0" cy="296.9" r="1.9" fill="#f2707a"/>
<circle cx="768.6" cy="297.6" r="1.9" fill="#f2707a"/>
<circle cx="770.4" cy="298.1" r="1.9" fill="#f2707a"/>
<circle cx="772.0" cy="297.2" r="1.9" fill="#f2707a"/>
<circle cx="772.4" cy="296.9" r="1.9" fill="#f2707a"/>
<circle cx="761.2" cy="295.3" r="1.9" fill="#f2707a"/>
<circle cx="762.5" cy="295.6" r="1.9" fill="#f2707a"/>
<circle cx="764.8" cy="296.8" r="1.9" fill="#f2707a"/>
<circle cx="766.4" cy="295.3" r="1.9" fill="#f2707a"/>
<circle cx="767.2" cy="296.0" r="1.9" fill="#f2707a"/>
<circle cx="769.8" cy="296.1" r="1.9" fill="#f2707a"/>
<circle cx="770.8" cy="295.6" r="1.9" fill="#f2707a"/>
<circle cx="771.6" cy="296.9" r="1.9" fill="#f2707a"/>
<circle cx="760.1" cy="294.5" r="1.9" fill="#f2707a"/>
<circle cx="760.6" cy="295.0" r="1.9" fill="#f2707a"/>
<circle cx="762.1" cy="294.2" r="1.9" fill="#f2707a"/>
<circle cx="763.0" cy="294.9" r="1.9" fill="#f2707a"/>
<circle cx="765.3" cy="294.9" r="1.9" fill="#f2707a"/>
<circle cx="766.2" cy="294.3" r="1.9" fill="#f2707a"/>
<circle cx="769.1" cy="294.2" r="1.9" fill="#f2707a"/>
<circle cx="769.9" cy="294.9" r="1.9" fill="#f2707a"/>
<circle cx="770.6" cy="294.3" r="1.9" fill="#f2707a"/>
<circle cx="773.0" cy="294.7" r="1.9" fill="#f2707a"/>
<circle cx="762.1" cy="294.2" r="1.9" fill="#f2707a"/>
<circle cx="763.7" cy="293.3" r="1.9" fill="#f2707a"/>
<circle cx="765.2" cy="292.8" r="1.9" fill="#f2707a"/>
<circle cx="765.7" cy="293.1" r="1.9" fill="#f2707a"/>
<circle cx="768.1" cy="293.3" r="1.9" fill="#f2707a"/>
<circle cx="769.6" cy="293.9" r="1.9" fill="#f2707a"/>
<circle cx="770.6" cy="292.8" r="1.9" fill="#f2707a"/>
<circle cx="772.3" cy="293.6" r="1.9" fill="#f2707a"/>
<circle cx="761.6" cy="292.8" r="1.9" fill="#f2707a"/>
<circle cx="763.2" cy="292.5" r="1.9" fill="#f2707a"/>
<circle cx="764.8" cy="291.9" r="1.9" fill="#f2707a"/>
<circle cx="767.0" cy="291.5" r="1.9" fill="#f2707a"/>
<circle cx="768.4" cy="292.1" r="1.9" fill="#f2707a"/>
<circle cx="770.2" cy="291.4" r="1.9" fill="#f2707a"/>
<circle cx="771.5" cy="292.5" r="1.9" fill="#f2707a"/>
<circle cx="772.2" cy="292.9" r="1.9" fill="#f2707a"/>
<circle cx="759.8" cy="291.6" r="1.9" fill="#f2707a"/>
<circle cx="761.3" cy="291.6" r="1.9" fill="#f2707a"/>
<circle cx="762.5" cy="291.2" r="1.9" fill="#f2707a"/>
<circle cx="764.7" cy="291.3" r="1.9" fill="#f2707a"/>
<circle cx="765.5" cy="290.4" r="1.9" fill="#f2707a"/>
<circle cx="766.7" cy="290.3" r="1.9" fill="#f2707a"/>
<circle cx="768.8" cy="290.2" r="1.9" fill="#f2707a"/>
<circle cx="771.2" cy="291.0" r="1.9" fill="#f2707a"/>
<circle cx="772.3" cy="290.7" r="1.9" fill="#f2707a"/>
<circle cx="757.6" cy="288.8" r="1.9" fill="#f2707a"/>
<circle cx="760.4" cy="290.3" r="1.9" fill="#f2707a"/>
<circle cx="762.7" cy="289.8" r="1.9" fill="#f2707a"/>
<circle cx="764.0" cy="290.3" r="1.9" fill="#f2707a"/>
<circle cx="765.6" cy="289.2" r="1.9" fill="#f2707a"/>
<circle cx="767.2" cy="289.7" r="1.9" fill="#f2707a"/>
<circle cx="768.8" cy="289.7" r="1.9" fill="#f2707a"/>
<circle cx="768.9" cy="289.6" r="1.9" fill="#f2707a"/>
<circle cx="770.8" cy="288.9" r="1.9" fill="#f2707a"/>
<circle cx="772.1" cy="289.9" r="1.9" fill="#f2707a"/>
<circle cx="757.9" cy="287.9" r="1.9" fill="#f2707a"/>
<circle cx="762.2" cy="288.9" r="1.9" fill="#f2707a"/>
<circle cx="763.8" cy="288.0" r="1.9" fill="#f2707a"/>
<circle cx="765.6" cy="288.1" r="1.9" fill="#f2707a"/>
<circle cx="767.0" cy="287.5" r="1.9" fill="#f2707a"/>
<circle cx="768.3" cy="287.6" r="1.9" fill="#f2707a"/>
<circle cx="770.7" cy="287.9" r="1.9" fill="#f2707a"/>
<circle cx="772.2" cy="288.0" r="1.9" fill="#f2707a"/>
<circle cx="759.8" cy="287.0" r="1.9" fill="#f2707a"/>
<circle cx="760.0" cy="287.2" r="1.9" fill="#f2707a"/>
<circle cx="762.4" cy="286.5" r="1.9" fill="#f2707a"/>
<circle cx="764.0" cy="286.3" r="1.9" fill="#f2707a"/>
<circle cx="764.6" cy="287.3" r="1.9" fill="#f2707a"/>
<circle cx="767.0" cy="286.5" r="1.9" fill="#f2707a"/>
<circle cx="768.3" cy="287.0" r="1.9" fill="#f2707a"/>
<circle cx="769.1" cy="287.1" r="1.9" fill="#f2707a"/>
<circle cx="771.3" cy="286.5" r="1.9" fill="#f2707a"/>
<circle cx="772.4" cy="287.0" r="1.9" fill="#f2707a"/>
<circle cx="760.1" cy="285.2" r="1.9" fill="#f2707a"/>
<circle cx="761.5" cy="285.9" r="1.9" fill="#f2707a"/>
<circle cx="763.4" cy="285.2" r="1.9" fill="#f2707a"/>
<circle cx="764.5" cy="285.2" r="1.9" fill="#f2707a"/>
<circle cx="765.3" cy="286.1" r="1.9" fill="#f2707a"/>
<circle cx="767.6" cy="286.4" r="1.9" fill="#f2707a"/>
<circle cx="768.5" cy="285.3" r="1.9" fill="#f2707a"/>
<circle cx="769.6" cy="285.8" r="1.9" fill="#f2707a"/>
<circle cx="771.0" cy="285.6" r="1.9" fill="#f2707a"/>
<circle cx="758.2" cy="284.9" r="1.9" fill="#f2707a"/>
<circle cx="758.5" cy="283.7" r="1.9" fill="#f2707a"/>
<circle cx="760.5" cy="284.1" r="1.9" fill="#f2707a"/>
<circle cx="762.0" cy="284.8" r="1.9" fill="#f2707a"/>
<circle cx="762.8" cy="284.1" r="1.9" fill="#f2707a"/>
<circle cx="764.6" cy="284.6" r="1.9" fill="#f2707a"/>
<circle cx="766.2" cy="284.3" r="1.9" fill="#f2707a"/>
<circle cx="768.4" cy="284.1" r="1.9" fill="#f2707a"/>
<circle cx="770.2" cy="285.0" r="1.9" fill="#f2707a"/>
<circle cx="770.3" cy="284.2" r="1.9" fill="#f2707a"/>
<circle cx="772.1" cy="283.6" r="1.9" fill="#f2707a"/>
<circle cx="761.1" cy="283.2" r="1.9" fill="#f2707a"/>
<circle cx="762.0" cy="283.4" r="1.9" fill="#f2707a"/>
<circle cx="764.1" cy="282.4" r="1.9" fill="#f2707a"/>
<circle cx="765.0" cy="283.8" r="1.9" fill="#f2707a"/>
<circle cx="766.8" cy="283.4" r="1.9" fill="#f2707a"/>
<circle cx="768.1" cy="282.3" r="1.9" fill="#f2707a"/>
<circle cx="770.2" cy="283.5" r="1.9" fill="#f2707a"/>
<circle cx="771.2" cy="283.4" r="1.9" fill="#f2707a"/>
<circle cx="758.3" cy="281.3" r="1.9" fill="#f2707a"/>
<circle cx="761.5" cy="282.1" r="1.9" fill="#f2707a"/>
<circle cx="764.0" cy="281.7" r="1.9" fill="#f2707a"/>
<circle cx="765.1" cy="281.4" r="1.9" fill="#f2707a"/>
<circle cx="766.7" cy="282.1" r="1.9" fill="#f2707a"/>
<circle cx="767.4" cy="282.4" r="1.9" fill="#f2707a"/>
<circle cx="769.9" cy="281.5" r="1.9" fill="#f2707a"/>
<circle cx="770.5" cy="281.7" r="1.9" fill="#f2707a"/>
<circle cx="771.8" cy="282.3" r="1.9" fill="#f2707a"/>
<circle cx="757.6" cy="280.8" r="1.9" fill="#f2707a"/>
<circle cx="759.1" cy="280.3" r="1.9" fill="#f2707a"/>
<circle cx="761.7" cy="280.5" r="1.9" fill="#f2707a"/>
<circle cx="763.0" cy="280.6" r="1.9" fill="#f2707a"/>
<circle cx="764.8" cy="280.1" r="1.9" fill="#f2707a"/>
<circle cx="766.1" cy="280.0" r="1.9" fill="#f2707a"/>
<circle cx="766.9" cy="280.2" r="1.9" fill="#f2707a"/>
<circle cx="768.0" cy="280.0" r="1.9" fill="#f2707a"/>
<circle cx="770.0" cy="280.6" r="1.9" fill="#f2707a"/>
<circle cx="772.0" cy="280.0" r="1.9" fill="#f2707a"/>
<circle cx="762.2" cy="279.6" r="1.9" fill="#f2707a"/>
<circle cx="763.6" cy="278.9" r="1.9" fill="#f2707a"/>
<circle cx="764.2" cy="279.2" r="1.9" fill="#f2707a"/>
<circle cx="766.8" cy="278.9" r="1.9" fill="#f2707a"/>
<circle cx="768.4" cy="279.7" r="1.9" fill="#f2707a"/>
<circle cx="770.0" cy="279.5" r="1.9" fill="#f2707a"/>
<circle cx="771.0" cy="278.4" r="1.9" fill="#f2707a"/>
<circle cx="772.4" cy="279.0" r="1.9" fill="#f2707a"/>
<circle cx="758.5" cy="278.2" r="1.9" fill="#f2707a"/>
<circle cx="760.8" cy="277.4" r="1.9" fill="#f2707a"/>
<circle cx="762.2" cy="277.0" r="1.9" fill="#f2707a"/>
<circle cx="763.6" cy="277.1" r="1.9" fill="#f2707a"/>
<circle cx="765.9" cy="277.3" r="1.9" fill="#f2707a"/>
<circle cx="766.9" cy="278.3" r="1.9" fill="#f2707a"/>
<circle cx="768.2" cy="278.0" r="1.9" fill="#f2707a"/>
<circle cx="770.0" cy="278.4" r="1.9" fill="#f2707a"/>
<circle cx="771.2" cy="278.4" r="1.9" fill="#f2707a"/>
<circle cx="772.4" cy="277.9" r="1.9" fill="#f2707a"/>
<circle cx="760.1" cy="277.1" r="1.9" fill="#f2707a"/>
<circle cx="761.2" cy="276.3" r="1.9" fill="#f2707a"/>
<circle cx="764.0" cy="276.8" r="1.9" fill="#f2707a"/>
<circle cx="765.4" cy="275.7" r="1.9" fill="#f2707a"/>
<circle cx="766.1" cy="276.8" r="1.9" fill="#f2707a"/>
<circle cx="767.1" cy="276.5" r="1.9" fill="#f2707a"/>
<circle cx="769.7" cy="276.3" r="1.9" fill="#f2707a"/>
<circle cx="771.1" cy="277.0" r="1.9" fill="#f2707a"/>
<circle cx="772.8" cy="277.3" r="1.9" fill="#f2707a"/>
<circle cx="759.8" cy="275.9" r="1.9" fill="#f2707a"/>
<circle cx="760.6" cy="274.9" r="1.9" fill="#f2707a"/>
<circle cx="761.9" cy="275.3" r="1.9" fill="#f2707a"/>
<circle cx="764.2" cy="274.6" r="1.9" fill="#f2707a"/>
<circle cx="766.2" cy="275.3" r="1.9" fill="#f2707a"/>
<circle cx="766.4" cy="275.8" r="1.9" fill="#f2707a"/>
<circle cx="768.8" cy="275.8" r="1.9" fill="#f2707a"/>
<circle cx="770.6" cy="274.7" r="1.9" fill="#f2707a"/>
<circle cx="771.4" cy="275.8" r="1.9" fill="#f2707a"/>
<circle cx="773.7" cy="275.2" r="1.9" fill="#f2707a"/>
<circle cx="760.3" cy="274.4" r="1.9" fill="#f2707a"/>
<circle cx="761.8" cy="273.5" r="1.9" fill="#f2707a"/>
<circle cx="763.0" cy="273.9" r="1.9" fill="#f2707a"/>
<circle cx="764.0" cy="273.1" r="1.9" fill="#f2707a"/>
<circle cx="766.5" cy="274.3" r="1.9" fill="#f2707a"/>
<circle cx="767.2" cy="273.9" r="1.9" fill="#f2707a"/>
<circle cx="769.3" cy="274.5" r="1.9" fill="#f2707a"/>
<circle cx="770.8" cy="274.2" r="1.9" fill="#f2707a"/>
<circle cx="772.5" cy="274.2" r="1.9" fill="#f2707a"/>
<circle cx="758.4" cy="273.3" r="1.9" fill="#f2707a"/>
<circle cx="760.0" cy="272.5" r="1.9" fill="#f2707a"/>
<circle cx="760.1" cy="273.0" r="1.9" fill="#f2707a"/>
<circle cx="761.8" cy="272.5" r="1.9" fill="#f2707a"/>
<circle cx="764.6" cy="272.3" r="1.9" fill="#f2707a"/>
<circle cx="764.9" cy="272.1" r="1.9" fill="#f2707a"/>
<circle cx="766.7" cy="272.8" r="1.9" fill="#f2707a"/>
<circle cx="767.8" cy="272.1" r="1.9" fill="#f2707a"/>
<circle cx="769.3" cy="272.3" r="1.9" fill="#f2707a"/>
<circle cx="770.8" cy="272.5" r="1.9" fill="#f2707a"/>
<circle cx="773.6" cy="272.6" r="1.9" fill="#f2707a"/>
<circle cx="758.1" cy="271.4" r="1.9" fill="#f2707a"/>
<circle cx="759.5" cy="270.6" r="1.9" fill="#f2707a"/>
<circle cx="762.3" cy="271.1" r="1.9" fill="#f2707a"/>
<circle cx="762.9" cy="271.0" r="1.9" fill="#f2707a"/>
<circle cx="764.4" cy="270.7" r="1.9" fill="#f2707a"/>
<circle cx="766.2" cy="270.5" r="1.9" fill="#f2707a"/>
<circle cx="767.9" cy="271.0" r="1.9" fill="#f2707a"/>
<circle cx="769.7" cy="271.1" r="1.9" fill="#f2707a"/>
<circle cx="770.2" cy="271.4" r="1.9" fill="#f2707a"/>
<circle cx="772.4" cy="272.0" r="1.9" fill="#f2707a"/>
<circle cx="757.5" cy="270.5" r="1.9" fill="#f2707a"/>
<circle cx="761.0" cy="269.7" r="1.9" fill="#f2707a"/>
<circle cx="762.3" cy="269.8" r="1.9" fill="#f2707a"/>
<circle cx="763.1" cy="270.6" r="1.9" fill="#f2707a"/>
<circle cx="764.5" cy="269.7" r="1.9" fill="#f2707a"/>
<circle cx="766.7" cy="269.7" r="1.9" fill="#f2707a"/>
<circle cx="768.0" cy="270.0" r="1.9" fill="#f2707a"/>
<circle cx="770.0" cy="269.9" r="1.9" fill="#f2707a"/>
<circle cx="771.1" cy="270.1" r="1.9" fill="#f2707a"/>
<circle cx="772.4" cy="269.8" r="1.9" fill="#f2707a"/>
<circle cx="759.2" cy="268.7" r="1.9" fill="#f2707a"/>
<circle cx="759.7" cy="269.2" r="1.9" fill="#f2707a"/>
<circle cx="761.8" cy="267.9" r="1.9" fill="#f2707a"/>
<circle cx="762.3" cy="269.1" r="1.9" fill="#f2707a"/>
<circle cx="764.1" cy="268.0" r="1.9" fill="#f2707a"/>
<circle cx="766.4" cy="269.0" r="1.9" fill="#f2707a"/>
<circle cx="768.2" cy="268.7" r="1.9" fill="#f2707a"/>
<circle cx="768.3" cy="269.3" r="1.9" fill="#f2707a"/>
<circle cx="770.0" cy="269.1" r="1.9" fill="#f2707a"/>
<circle cx="771.8" cy="268.0" r="1.9" fill="#f2707a"/>
<circle cx="761.5" cy="266.6" r="1.9" fill="#f2707a"/>
<circle cx="761.6" cy="266.6" r="1.9" fill="#f2707a"/>
<circle cx="764.0" cy="266.7" r="1.9" fill="#f2707a"/>
<circle cx="764.7" cy="267.5" r="1.9" fill="#f2707a"/>
<circle cx="767.5" cy="267.1" r="1.9" fill="#f2707a"/>
<circle cx="768.1" cy="267.2" r="1.9" fill="#f2707a"/>
<circle cx="769.3" cy="268.1" r="1.9" fill="#f2707a"/>
<circle cx="771.6" cy="266.8" r="1.9" fill="#f2707a"/>
<circle cx="772.2" cy="267.1" r="1.9" fill="#f2707a"/>
<circle cx="758.5" cy="266.3" r="1.9" fill="#f2707a"/>
<circle cx="759.9" cy="266.5" r="1.9" fill="#f2707a"/>
<circle cx="761.4" cy="266.7" r="1.9" fill="#f2707a"/>
<circle cx="762.7" cy="265.9" r="1.9" fill="#f2707a"/>
<circle cx="765.1" cy="266.7" r="1.9" fill="#f2707a"/>
<circle cx="765.4" cy="265.5" r="1.9" fill="#f2707a"/>
<circle cx="767.8" cy="265.3" r="1.9" fill="#f2707a"/>
<circle cx="769.5" cy="266.1" r="1.9" fill="#f2707a"/>
<circle cx="771.0" cy="265.9" r="1.9" fill="#f2707a"/>
<circle cx="772.1" cy="266.4" r="1.9" fill="#f2707a"/>
<circle cx="762.4" cy="264.5" r="1.9" fill="#f2707a"/>
<circle cx="763.4" cy="265.4" r="1.9" fill="#f2707a"/>
<circle cx="765.7" cy="265.3" r="1.9" fill="#f2707a"/>
<circle cx="767.1" cy="264.5" r="1.9" fill="#f2707a"/>
<circle cx="767.9" cy="264.9" r="1.9" fill="#f2707a"/>
<circle cx="770.3" cy="264.7" r="1.9" fill="#f2707a"/>
<circle cx="771.9" cy="264.1" r="1.9" fill="#f2707a"/>
<circle cx="773.2" cy="264.2" r="1.9" fill="#f2707a"/>
<circle cx="761.4" cy="264.1" r="1.9" fill="#f2707a"/>
<circle cx="763.4" cy="262.8" r="1.9" fill="#f2707a"/>
<circle cx="763.9" cy="264.0" r="1.9" fill="#f2707a"/>
<circle cx="766.4" cy="263.1" r="1.9" fill="#f2707a"/>
<circle cx="767.7" cy="262.8" r="1.9" fill="#f2707a"/>
<circle cx="769.4" cy="263.0" r="1.9" fill="#f2707a"/>
<circle cx="770.1" cy="263.2" r="1.9" fill="#f2707a"/>
<circle cx="772.7" cy="264.2" r="1.9" fill="#f2707a"/>
<circle cx="759.7" cy="262.5" r="1.9" fill="#f2707a"/>
<circle cx="761.3" cy="262.0" r="1.9" fill="#f2707a"/>
<circle cx="762.2" cy="261.5" r="1.9" fill="#f2707a"/>
<circle cx="763.2" cy="262.4" r="1.9" fill="#f2707a"/>
<circle cx="766.0" cy="262.2" r="1.9" fill="#f2707a"/>
<circle cx="766.2" cy="262.4" r="1.9" fill="#f2707a"/>
<circle cx="767.8" cy="262.6" r="1.9" fill="#f2707a"/>
<circle cx="769.7" cy="261.5" r="1.9" fill="#f2707a"/>
<circle cx="771.9" cy="261.4" r="1.9" fill="#f2707a"/>
<circle cx="772.7" cy="262.5" r="1.9" fill="#f2707a"/>
<circle cx="759.2" cy="260.3" r="1.9" fill="#f2707a"/>
<circle cx="760.5" cy="260.2" r="1.9" fill="#f2707a"/>
<circle cx="761.5" cy="260.6" r="1.9" fill="#f2707a"/>
<circle cx="763.7" cy="260.8" r="1.9" fill="#f2707a"/>
<circle cx="764.1" cy="261.5" r="1.9" fill="#f2707a"/>
<circle cx="766.7" cy="261.0" r="1.9" fill="#f2707a"/>
<circle cx="767.9" cy="261.0" r="1.9" fill="#f2707a"/>
<circle cx="769.6" cy="260.7" r="1.9" fill="#f2707a"/>
<circle cx="771.2" cy="261.3" r="1.9" fill="#f2707a"/>
<circle cx="772.4" cy="260.4" r="1.9" fill="#f2707a"/>
<circle cx="761.7" cy="259.8" r="1.9" fill="#f2707a"/>
<circle cx="763.6" cy="259.0" r="1.9" fill="#f2707a"/>
<circle cx="765.2" cy="259.5" r="1.9" fill="#f2707a"/>
<circle cx="766.5" cy="259.6" r="1.9" fill="#f2707a"/>
<circle cx="768.4" cy="259.0" r="1.9" fill="#f2707a"/>
<circle cx="769.5" cy="260.3" r="1.9" fill="#f2707a"/>
<circle cx="770.7" cy="259.7" r="1.9" fill="#f2707a"/>
<circle cx="772.6" cy="259.6" r="1.9" fill="#f2707a"/>
<circle cx="758.0" cy="257.6" r="1.9" fill="#f2707a"/>
<circle cx="760.2" cy="258.3" r="1.9" fill="#f2707a"/>
<circle cx="761.8" cy="258.0" r="1.9" fill="#f2707a"/>
<circle cx="763.2" cy="258.3" r="1.9" fill="#f2707a"/>
<circle cx="764.8" cy="258.0" r="1.9" fill="#f2707a"/>
<circle cx="765.7" cy="259.0" r="1.9" fill="#f2707a"/>
<circle cx="768.3" cy="257.5" r="1.9" fill="#f2707a"/>
<circle cx="769.1" cy="257.7" r="1.9" fill="#f2707a"/>
<circle cx="769.9" cy="258.8" r="1.9" fill="#f2707a"/>
<circle cx="772.3" cy="258.9" r="1.9" fill="#f2707a"/>
<circle cx="760.0" cy="256.2" r="1.9" fill="#f2707a"/>
<circle cx="763.0" cy="256.6" r="1.9" fill="#f2707a"/>
<circle cx="763.0" cy="256.8" r="1.9" fill="#f2707a"/>
<circle cx="765.4" cy="257.4" r="1.9" fill="#f2707a"/>
<circle cx="766.3" cy="256.4" r="1.9" fill="#f2707a"/>
<circle cx="767.6" cy="257.6" r="1.9" fill="#f2707a"/>
<circle cx="770.4" cy="256.9" r="1.9" fill="#f2707a"/>
<circle cx="772.0" cy="256.8" r="1.9" fill="#f2707a"/>
<circle cx="772.1" cy="257.4" r="1.9" fill="#f2707a"/>
<circle cx="758.9" cy="255.2" r="1.9" fill="#f2707a"/>
<circle cx="759.8" cy="255.9" r="1.9" fill="#f2707a"/>
<circle cx="762.3" cy="256.4" r="1.9" fill="#f2707a"/>
<circle cx="763.2" cy="255.1" r="1.9" fill="#f2707a"/>
<circle cx="764.6" cy="255.4" r="1.9" fill="#f2707a"/>
<circle cx="765.6" cy="255.0" r="1.9" fill="#f2707a"/>
<circle cx="766.9" cy="255.8" r="1.9" fill="#f2707a"/>
<circle cx="768.5" cy="255.6" r="1.9" fill="#f2707a"/>
<circle cx="770.6" cy="255.5" r="1.9" fill="#f2707a"/>
<circle cx="771.2" cy="254.9" r="1.9" fill="#f2707a"/>
<circle cx="759.7" cy="253.9" r="1.9" fill="#f2707a"/>
<circle cx="760.3" cy="253.7" r="1.9" fill="#f2707a"/>
<circle cx="762.1" cy="254.0" r="1.9" fill="#f2707a"/>
<circle cx="763.3" cy="254.6" r="1.9" fill="#f2707a"/>
<circle cx="765.2" cy="254.3" r="1.9" fill="#f2707a"/>
<circle cx="766.9" cy="253.8" r="1.9" fill="#f2707a"/>
<circle cx="767.6" cy="254.0" r="1.9" fill="#f2707a"/>
<circle cx="770.0" cy="254.2" r="1.9" fill="#f2707a"/>
<circle cx="771.3" cy="255.0" r="1.9" fill="#f2707a"/>
<circle cx="772.2" cy="254.0" r="1.9" fill="#f2707a"/>
<circle cx="759.9" cy="252.5" r="1.9" fill="#f2707a"/>
<circle cx="760.9" cy="253.6" r="1.9" fill="#f2707a"/>
<circle cx="762.5" cy="253.2" r="1.9" fill="#f2707a"/>
<circle cx="764.5" cy="252.7" r="1.9" fill="#f2707a"/>
<circle cx="766.4" cy="253.3" r="1.9" fill="#f2707a"/>
<circle cx="767.0" cy="253.3" r="1.9" fill="#f2707a"/>
<circle cx="769.3" cy="252.3" r="1.9" fill="#f2707a"/>
<circle cx="769.7" cy="252.6" r="1.9" fill="#f2707a"/>
<circle cx="771.5" cy="252.3" r="1.9" fill="#f2707a"/>
<circle cx="760.4" cy="252.0" r="1.9" fill="#f2707a"/>
<circle cx="762.1" cy="252.0" r="1.9" fill="#f2707a"/>
<circle cx="763.2" cy="251.0" r="1.9" fill="#f2707a"/>
<circle cx="766.0" cy="252.4" r="1.9" fill="#f2707a"/>
<circle cx="766.8" cy="251.7" r="1.9" fill="#f2707a"/>
<circle cx="768.5" cy="251.7" r="1.9" fill="#f2707a"/>
<circle cx="769.4" cy="252.4" r="1.9" fill="#f2707a"/>
<circle cx="771.2" cy="251.1" r="1.9" fill="#f2707a"/>
<circle cx="772.2" cy="252.0" r="1.9" fill="#f2707a"/>
<circle cx="761.8" cy="250.9" r="1.9" fill="#f2707a"/>
<circle cx="762.7" cy="249.7" r="1.9" fill="#f2707a"/>
<circle cx="764.9" cy="250.1" r="1.9" fill="#f2707a"/>
<circle cx="765.8" cy="250.7" r="1.9" fill="#f2707a"/>
<circle cx="768.3" cy="250.3" r="1.9" fill="#f2707a"/>
<circle cx="768.3" cy="250.8" r="1.9" fill="#f2707a"/>
<circle cx="770.7" cy="249.8" r="1.9" fill="#f2707a"/>
<circle cx="759.1" cy="249.4" r="1.9" fill="#f2707a"/>
<circle cx="760.0" cy="248.9" r="1.9" fill="#f2707a"/>
<circle cx="765.9" cy="249.5" r="1.9" fill="#f2707a"/>
<circle cx="769.0" cy="249.3" r="1.9" fill="#f2707a"/>
<circle cx="770.8" cy="249.1" r="1.9" fill="#f2707a"/>
<circle cx="772.5" cy="248.9" r="1.9" fill="#f2707a"/>
<circle cx="759.6" cy="247.8" r="1.9" fill="#f2707a"/>
<circle cx="761.4" cy="248.0" r="1.9" fill="#f2707a"/>
<circle cx="763.1" cy="247.4" r="1.9" fill="#f2707a"/>
<circle cx="764.8" cy="248.2" r="1.9" fill="#f2707a"/>
<circle cx="765.6" cy="248.5" r="1.9" fill="#f2707a"/>
<circle cx="767.3" cy="247.4" r="1.9" fill="#f2707a"/>
<circle cx="769.3" cy="248.3" r="1.9" fill="#f2707a"/>
<circle cx="770.9" cy="247.3" r="1.9" fill="#f2707a"/>
<circle cx="771.8" cy="247.5" r="1.9" fill="#f2707a"/>
<circle cx="761.8" cy="246.9" r="1.9" fill="#f2707a"/>
<circle cx="764.0" cy="246.7" r="1.9" fill="#f2707a"/>
<circle cx="764.9" cy="245.8" r="1.9" fill="#f2707a"/>
<circle cx="766.0" cy="247.2" r="1.9" fill="#f2707a"/>
<circle cx="768.5" cy="247.2" r="1.9" fill="#f2707a"/>
<circle cx="771.0" cy="245.8" r="1.9" fill="#f2707a"/>
<circle cx="759.6" cy="245.1" r="1.9" fill="#f2707a"/>
<circle cx="762.1" cy="245.7" r="1.9" fill="#f2707a"/>
<circle cx="764.4" cy="244.9" r="1.9" fill="#f2707a"/>
<circle cx="767.0" cy="244.8" r="1.9" fill="#f2707a"/>
<circle cx="772.6" cy="245.8" r="1.9" fill="#f2707a"/>
<circle cx="759.9" cy="243.7" r="1.9" fill="#f2707a"/>
<circle cx="761.6" cy="243.8" r="1.9" fill="#f2707a"/>
<circle cx="762.7" cy="243.5" r="1.9" fill="#f2707a"/>
<circle cx="763.8" cy="243.7" r="1.9" fill="#f2707a"/>
<circle cx="765.3" cy="244.3" r="1.9" fill="#f2707a"/>
<circle cx="767.3" cy="244.1" r="1.9" fill="#f2707a"/>
<circle cx="767.7" cy="244.1" r="1.9" fill="#f2707a"/>
<circle cx="769.7" cy="243.4" r="1.9" fill="#f2707a"/>
<circle cx="759.2" cy="242.7" r="1.9" fill="#f2707a"/>
<circle cx="759.8" cy="242.3" r="1.9" fill="#f2707a"/>
<circle cx="762.2" cy="242.6" r="1.9" fill="#f2707a"/>
<circle cx="763.1" cy="242.3" r="1.9" fill="#f2707a"/>
<circle cx="764.8" cy="243.2" r="1.9" fill="#f2707a"/>
<circle cx="767.3" cy="242.1" r="1.9" fill="#f2707a"/>
<circle cx="769.7" cy="242.4" r="1.9" fill="#f2707a"/>
<circle cx="771.5" cy="243.1" r="1.9" fill="#f2707a"/>
<circle cx="773.0" cy="242.5" r="1.9" fill="#f2707a"/>
<circle cx="759.9" cy="240.8" r="1.9" fill="#f2707a"/>
<circle cx="765.9" cy="241.7" r="1.9" fill="#f2707a"/>
<circle cx="767.2" cy="241.7" r="1.9" fill="#f2707a"/>
<circle cx="769.9" cy="240.6" r="1.9" fill="#f2707a"/>
<circle cx="770.1" cy="240.5" r="1.9" fill="#f2707a"/>
<circle cx="771.4" cy="241.0" r="1.9" fill="#f2707a"/>
<circle cx="761.5" cy="240.0" r="1.9" fill="#f2707a"/>
<circle cx="764.2" cy="239.9" r="1.9" fill="#f2707a"/>
<circle cx="766.2" cy="239.5" r="1.9" fill="#f2707a"/>
<circle cx="768.4" cy="240.1" r="1.9" fill="#f2707a"/>
<circle cx="769.8" cy="239.3" r="1.9" fill="#f2707a"/>
<circle cx="760.9" cy="238.7" r="1.9" fill="#f2707a"/>
<circle cx="761.9" cy="239.2" r="1.9" fill="#f2707a"/>
<circle cx="763.5" cy="239.4" r="1.9" fill="#f2707a"/>
<circle cx="765.0" cy="238.1" r="1.9" fill="#f2707a"/>
<circle cx="769.5" cy="238.2" r="1.9" fill="#f2707a"/>
<circle cx="762.1" cy="236.6" r="1.9" fill="#f2707a"/>
<circle cx="764.0" cy="237.6" r="1.9" fill="#f2707a"/>
<circle cx="766.2" cy="236.9" r="1.9" fill="#f2707a"/>
<circle cx="768.0" cy="237.7" r="1.9" fill="#f2707a"/>
<circle cx="769.5" cy="236.8" r="1.9" fill="#f2707a"/>
<circle cx="772.2" cy="237.0" r="1.9" fill="#f2707a"/>
<circle cx="761.2" cy="236.2" r="1.9" fill="#f2707a"/>
<circle cx="762.5" cy="236.3" r="1.9" fill="#f2707a"/>
<circle cx="770.2" cy="236.6" r="1.9" fill="#f2707a"/>
<circle cx="768.5" cy="234.0" r="1.9" fill="#f2707a"/>
<circle cx="762.4" cy="232.9" r="1.9" fill="#f2707a"/>
<circle cx="767.0" cy="233.3" r="1.9" fill="#f2707a"/>
<circle cx="764.1" cy="231.4" r="1.9" fill="#f2707a"/>
<circle cx="766.1" cy="231.5" r="1.9" fill="#f2707a"/>
<circle cx="767.1" cy="231.8" r="1.9" fill="#f2707a"/>
<circle cx="766.1" cy="231.3" r="1.9" fill="#f2707a"/>
<circle cx="767.8" cy="231.5" r="1.9" fill="#f2707a"/>
<circle cx="762.3" cy="229.5" r="1.9" fill="#f2707a"/>
<circle cx="767.2" cy="229.2" r="1.9" fill="#f2707a"/>
<circle cx="771.3" cy="229.3" r="1.9" fill="#f2707a"/>
<circle cx="763.8" cy="228.0" r="1.9" fill="#f2707a"/>
<circle cx="767.9" cy="228.6" r="1.9" fill="#f2707a"/>
<circle cx="770.1" cy="228.0" r="1.9" fill="#f2707a"/>
<circle cx="766.2" cy="226.9" r="1.9" fill="#f2707a"/>
<circle cx="770.4" cy="226.7" r="1.9" fill="#f2707a"/>
<circle cx="761.8" cy="225.8" r="1.9" fill="#f2707a"/>
<circle cx="768.0" cy="224.8" r="1.9" fill="#f2707a"/>
<circle cx="771.6" cy="225.7" r="1.9" fill="#f2707a"/>
<circle cx="764.9" cy="224.0" r="1.9" fill="#f2707a"/>
<circle cx="764.6" cy="222.8" r="1.9" fill="#f2707a"/>
<circle cx="767.8" cy="223.6" r="1.9" fill="#f2707a"/>
<circle cx="770.7" cy="223.1" r="1.9" fill="#f2707a"/>
<circle cx="771.2" cy="221.2" r="1.9" fill="#f2707a"/>
<circle cx="772.4" cy="221.8" r="1.9" fill="#f2707a"/>
<circle cx="764.2" cy="220.1" r="1.9" fill="#f2707a"/>
<circle cx="766.9" cy="220.6" r="1.9" fill="#f2707a"/>
<circle cx="771.5" cy="220.7" r="1.9" fill="#f2707a"/>
<circle cx="766.5" cy="219.7" r="1.9" fill="#f2707a"/>
<circle cx="767.1" cy="218.4" r="1.9" fill="#f2707a"/>
<circle cx="768.3" cy="219.1" r="1.9" fill="#f2707a"/>
<circle cx="770.2" cy="219.0" r="1.9" fill="#f2707a"/>
<circle cx="766.3" cy="217.0" r="1.9" fill="#f2707a"/>
<circle cx="767.6" cy="218.1" r="1.9" fill="#f2707a"/>
<circle cx="763.4" cy="216.3" r="1.9" fill="#f2707a"/>
<circle cx="766.8" cy="217.2" r="1.9" fill="#f2707a"/>
<circle cx="768.1" cy="215.8" r="1.9" fill="#f2707a"/>
<circle cx="766.1" cy="214.4" r="1.9" fill="#f2707a"/>
<circle cx="767.3" cy="214.5" r="1.9" fill="#f2707a"/>
<circle cx="770.7" cy="214.1" r="1.9" fill="#f2707a"/>
<circle cx="764.9" cy="212.9" r="1.9" fill="#f2707a"/>
<circle cx="768.5" cy="212.8" r="1.9" fill="#f2707a"/>
<circle cx="771.2" cy="212.3" r="1.9" fill="#f2707a"/>
<circle cx="764.8" cy="210.9" r="1.9" fill="#f2707a"/>
<circle cx="765.9" cy="209.2" r="1.9" fill="#f2707a"/>
<circle cx="769.6" cy="209.9" r="1.9" fill="#f2707a"/>
<circle cx="771.3" cy="208.3" r="1.9" fill="#f2707a"/>
<circle cx="769.0" cy="207.2" r="1.9" fill="#f2707a"/>
<circle cx="767.5" cy="205.9" r="1.9" fill="#f2707a"/>
<circle cx="766.7" cy="205.4" r="1.9" fill="#f2707a"/>
<circle cx="764.2" cy="203.8" r="1.9" fill="#f2707a"/>
<circle cx="765.8" cy="202.8" r="1.9" fill="#f2707a"/>
<circle cx="768.4" cy="203.0" r="1.9" fill="#f2707a"/>
<circle cx="769.8" cy="202.9" r="1.9" fill="#f2707a"/>
<circle cx="764.3" cy="202.0" r="1.9" fill="#f2707a"/>
<circle cx="767.3" cy="201.4" r="1.9" fill="#f2707a"/>
<circle cx="770.5" cy="202.0" r="1.9" fill="#f2707a"/>
<circle cx="762.3" cy="201.1" r="1.9" fill="#f2707a"/>
<circle cx="770.4" cy="200.5" r="1.9" fill="#f2707a"/>
<circle cx="768.8" cy="199.5" r="1.9" fill="#f2707a"/>
<circle cx="770.3" cy="194.6" r="1.9" fill="#f2707a"/>
<circle cx="765.2" cy="193.2" r="1.9" fill="#f2707a"/>
<circle cx="767.7" cy="193.7" r="1.9" fill="#f2707a"/>
<circle cx="764.0" cy="181.0" r="1.9" fill="#f2707a"/>
<circle cx="766.2" cy="181.0" r="1.9" fill="#f2707a"/>
<circle cx="767.9" cy="180.8" r="1.9" fill="#f2707a"/>
<circle cx="769.5" cy="181.6" r="1.9" fill="#f2707a"/>
<circle cx="765.8" cy="177.8" r="1.9" fill="#f2707a"/>
<circle cx="762.3" cy="56.0" r="1.9" fill="#f2707a"/>
<circle cx="771.0" cy="104.6" r="1.9" fill="#f2707a"/>
<circle cx="760.5" cy="111.0" r="1.9" fill="#f2707a"/>
<circle cx="759.3" cy="128.5" r="1.9" fill="#f2707a"/>
<circle cx="801.9" cy="173.3" r="1.9" fill="#f2707a"/>
<circle cx="767.0" cy="160.0" r="1.9" fill="#f2707a"/>
<circle cx="769.5" cy="162.5" r="1.9" fill="#f2707a"/>
<circle cx="762.0" cy="150.0" r="1.9" fill="#f2707a"/>
<circle cx="764.0" cy="163.0" r="1.9" fill="#f2707a"/>
<circle cx="758.0" cy="172.0" r="1.9" fill="#f2707a"/>
<circle cx="761.0" cy="175.0" r="1.9" fill="#f2707a"/>
<circle cx="766.0" cy="178.0" r="1.9" fill="#f2707a"/>
<circle cx="754.8" cy="44.2" r="1.9" fill="#f2707a"/>
<circle cx="754.8" cy="59.6" r="1.9" fill="#f2707a"/>
<circle cx="756.0" cy="68.6" r="1.9" fill="#f2707a"/>
<circle cx="756.0" cy="86.0" r="1.9" fill="#f2707a"/>
<circle cx="754.5" cy="133.3" r="1.9" fill="#f2707a"/>
<circle cx="757.6" cy="143.1" r="1.9" fill="#f2707a"/>
<circle cx="758.3" cy="170.3" r="1.9" fill="#f2707a"/>
<circle cx="756.9" cy="181.6" r="1.9" fill="#f2707a"/>
<circle cx="756.9" cy="196.6" r="1.9" fill="#f2707a"/>
<circle cx="758.4" cy="207.3" r="1.9" fill="#f2707a"/>
<circle cx="759.2" cy="225.4" r="1.9" fill="#f2707a"/>
<circle cx="759.8" cy="234.8" r="1.9" fill="#f2707a"/>
<circle cx="758.2" cy="244.6" r="1.9" fill="#f2707a"/>
<circle cx="756.7" cy="254.5" r="1.9" fill="#f2707a"/>
<circle cx="758.2" cy="264.0" r="1.9" fill="#f2707a"/>
<circle cx="756.0" cy="278.2" r="1.9" fill="#f2707a"/>
<circle cx="757.6" cy="299.3" r="1.9" fill="#f2707a"/>
<circle cx="755.6" cy="307.8" r="1.9" fill="#f2707a"/>
<circle cx="752.7" cy="360.9" r="1.9" fill="#f2707a"/>
<circle cx="726.8" cy="219.0" r="1.9" fill="#ea341c"/>
<circle cx="743.7" cy="283.5" r="1.9" fill="#ea341c"/>
<circle cx="734.0" cy="326.5" r="1.9" fill="#ea341c"/>
<circle cx="742.0" cy="332.0" r="1.9" fill="#ea341c"/>
<circle cx="736.0" cy="156.5" r="1.9" fill="#ea341c"/>
<circle cx="747.8" cy="176.5" r="1.9" fill="#ea341c"/>
<circle cx="750.0" cy="311.5" r="1.9" fill="#ea341c"/>
<circle cx="688.0" cy="87.4" r="1.9" fill="#ea341c"/>
<circle cx="751.2" cy="114.7" r="1.9" fill="#ea341c"/>
<circle cx="718.6" cy="130.3" r="1.9" fill="#ea341c"/>
<circle cx="718.1" cy="143.1" r="1.9" fill="#ea341c"/>
<circle cx="748.4" cy="151.7" r="1.9" fill="#ea341c"/>
<circle cx="747.2" cy="160.8" r="1.9" fill="#ea341c"/>
<circle cx="747.7" cy="216.4" r="1.9" fill="#ea341c"/>
<circle cx="721.4" cy="236.3" r="1.9" fill="#ea341c"/>
<circle cx="749.5" cy="290.3" r="1.9" fill="#ea341c"/>
<circle cx="742.0" cy="316.8" r="1.9" fill="#ea341c"/>
<circle cx="746.5" cy="325.0" r="1.9" fill="#ea341c"/>
<circle cx="748.6" cy="335.8" r="1.9" fill="#ea341c"/>
<circle cx="751.4" cy="351.0" r="1.9" fill="#ea341c"/>
<circle cx="771.7" cy="358.4" r="1.9" fill="#4a4a4a"/>
<circle cx="768.0" cy="358.4" r="1.9" fill="#4a4a4a"/>
<circle cx="769.4" cy="358.2" r="1.9" fill="#4a4a4a"/>
<circle cx="771.9" cy="358.2" r="1.9" fill="#4a4a4a"/>
<circle cx="765.3" cy="358.3" r="1.9" fill="#4a4a4a"/>
<circle cx="764.8" cy="358.3" r="1.9" fill="#4a4a4a"/>
<circle cx="767.7" cy="358.4" r="1.9" fill="#4a4a4a"/>
<circle cx="767.8" cy="358.4" r="1.9" fill="#4a4a4a"/>
<circle cx="770.5" cy="358.3" r="1.9" fill="#4a4a4a"/>
<circle cx="766.5" cy="358.2" r="1.9" fill="#4a4a4a"/>
<circle cx="768.3" cy="358.3" r="1.9" fill="#4a4a4a"/>
<circle cx="769.5" cy="358.3" r="1.9" fill="#4a4a4a"/>
<circle cx="767.1" cy="358.3" r="1.9" fill="#4a4a4a"/>
<circle cx="772.1" cy="358.2" r="1.9" fill="#4a4a4a"/>
<circle cx="767.2" cy="358.2" r="1.9" fill="#4a4a4a"/>
<circle cx="765.4" cy="358.2" r="1.9" fill="#4a4a4a"/>
<circle cx="767.8" cy="358.4" r="1.9" fill="#4a4a4a"/>
<circle cx="769.9" cy="358.4" r="1.9" fill="#4a4a4a"/>
<circle cx="770.9" cy="358.3" r="1.9" fill="#4a4a4a"/>
<circle cx="769.0" cy="358.2" r="1.9" fill="#4a4a4a"/>
<circle cx="767.5" cy="358.2" r="1.9" fill="#4a4a4a"/>
<circle cx="769.3" cy="358.2" r="1.9" fill="#4a4a4a"/>
<circle cx="768.7" cy="358.3" r="1.9" fill="#4a4a4a"/>
<circle cx="768.3" cy="358.3" r="1.9" fill="#4a4a4a"/>
<circle cx="765.5" cy="358.4" r="1.9" fill="#4a4a4a"/>
<circle cx="770.6" cy="358.3" r="1.9" fill="#4a4a4a"/>
<circle cx="765.6" cy="358.3" r="1.9" fill="#4a4a4a"/>
<circle cx="771.1" cy="358.4" r="1.9" fill="#4a4a4a"/>
<circle cx="770.3" cy="358.2" r="1.9" fill="#4a4a4a"/>
<circle cx="771.2" cy="358.3" r="1.9" fill="#4a4a4a"/>
<circle cx="766.7" cy="358.4" r="1.9" fill="#4a4a4a"/>
<circle cx="770.8" cy="358.4" r="1.9" fill="#4a4a4a"/>
<circle cx="766.5" cy="358.3" r="1.9" fill="#4a4a4a"/>
<circle cx="767.5" cy="358.2" r="1.9" fill="#4a4a4a"/>
<circle cx="770.3" cy="358.3" r="1.9" fill="#4a4a4a"/>
<circle cx="767.2" cy="358.3" r="1.9" fill="#4a4a4a"/>
<circle cx="771.6" cy="358.3" r="1.9" fill="#4a4a4a"/>
<circle cx="771.5" cy="358.3" r="1.9" fill="#4a4a4a"/>
<circle cx="772.0" cy="358.2" r="1.9" fill="#4a4a4a"/>
<circle cx="768.1" cy="358.3" r="1.9" fill="#4a4a4a"/>
<circle cx="770.1" cy="358.4" r="1.9" fill="#4a4a4a"/>
<circle cx="769.3" cy="358.3" r="1.9" fill="#4a4a4a"/>
<circle cx="769.4" cy="358.3" r="1.9" fill="#4a4a4a"/>
<circle cx="769.9" cy="358.4" r="1.9" fill="#4a4a4a"/>
<circle cx="764.8" cy="358.2" r="1.9" fill="#4a4a4a"/>
<circle cx="736.6" cy="358.5" r="1.9" fill="#e58a45"/>
<circle cx="939.6" cy="358.4" r="1.9" fill="#e58a45"/>
</g>
<line x1="752.0" x2="752.0" y1="22" y2="374.5" stroke="#a8a8a8" stroke-width="1.2" stroke-dasharray="4.2 2.6"/>
<line x1="815.0" x2="815.0" y1="22" y2="374.5" stroke="#a8a8a8" stroke-width="1.2" stroke-dasharray="4.2 2.6"/>
<line x1="589.4" x2="1039.4" y1="357.4" y2="357.4" stroke="#707070" stroke-width="0.8" stroke-dasharray="4.2 2.6"/>
<g font-size="10" text-anchor="middle" fill="#000">
<text x="754.8" y="47.8">RACK1</text>
<text x="754.8" y="63.2">RPS2</text>
<text x="756.0" y="72.2">RPL3</text>
<text x="756.0" y="89.6">RPL5</text>
<text x="688.0" y="91.0">IGLC1</text>
<text x="751.2" y="118.3">FYB1</text>
<text x="718.6" y="133.9">IGLC3</text>
<text x="754.5" y="136.9">RPS10</text>
<text x="718.1" y="146.7">S100A8</text>
<text x="757.6" y="146.7">RPL6</text>
<text x="748.4" y="155.3">RPS26</text>
<text x="747.2" y="164.4">RPS4X</text>
<text x="758.3" y="173.9">BTF3</text>
<text x="756.9" y="185.2">ARPC1B</text>
<text x="756.9" y="200.2">GIMAP4</text>
<text x="758.4" y="210.9">CD2</text>
<text x="747.7" y="220.0">FTH1</text>
<text x="759.2" y="229.0">TRBC2</text>
<text x="759.8" y="238.4">ITGA4</text>
<text x="721.4" y="239.9">IGHA1</text>
<text x="758.2" y="248.2">CORO1A</text>
<text x="756.7" y="258.1">HSP90AA1</text>
<text x="758.2" y="267.6">HIST1H1C</text>
<text x="756.0" y="281.8">ISG20</text>
<text x="749.5" y="293.9">SAT1</text>
<text x="757.6" y="302.9">TRBC1</text>
<text x="755.6" y="311.4">HLA−E</text>
<text x="742.0" y="320.4">ISG15</text>
<text x="747.2" y="329.8">XAF1</text>
<text x="748.4" y="341.1">SLPI</text>
<text x="751.4" y="354.6">LCN2</text>
<text x="752.7" y="364.5">IRF1</text>
<text x="939.8" y="362.2">HIV−NL−CI</text>
</g>
<line x1="589.4" x2="589.4" y1="22" y2="375.0" stroke="#444" stroke-width="1.3"/>
<line x1="588.9" x2="1039.4" y1="374.5" y2="374.5" stroke="#444" stroke-width="1.3"/>
<g font-size="11.8" fill="#4d4d4d">
<line x1="678.5" x2="678.5" y1="374.5" y2="378.3" stroke="#444" stroke-width="1"/>
<text x="678.5" y="391.1" text-anchor="middle">−2</text>
<line x1="783.5" x2="783.5" y1="374.5" y2="378.3" stroke="#444" stroke-width="1"/>
<text x="783.5" y="391.1" text-anchor="middle">0</text>
<line x1="888.5" x2="888.5" y1="374.5" y2="378.3" stroke="#444" stroke-width="1"/>
<text x="888.5" y="391.1" text-anchor="middle">2</text>
<line x1="993.5" x2="993.5" y1="374.5" y2="378.3" stroke="#444" stroke-width="1"/>
<text x="993.5" y="391.1" text-anchor="middle">4</text>
<line x1="585.6" x2="589.4" y1="358.1" y2="358.1" stroke="#444" stroke-width="1"/>
<text x="581.2" y="362.6" text-anchor="end">0</text>
<line x1="585.6" x2="589.4" y1="238.1" y2="238.1" stroke="#444" stroke-width="1"/>
<text x="581.2" y="242.6" text-anchor="end">100</text>
<line x1="585.6" x2="589.4" y1="118.1" y2="118.1" stroke="#444" stroke-width="1"/>
<text x="581.2" y="122.6" text-anchor="end">200</text>
</g>
<text x="589.4" y="14.2" font-size="12" fill="#000" text-anchor="start" font-weight="bold">Exposed and uninfected vs Unexposed in all cells</text>
<text x="770.6" y="407.3" font-size="11.9" fill="#111" xml:space="preserve">Log<tspan font-size="8.4" dy="3.2">2 </tspan><tspan dy="-3.2">fold change</tspan></text>
<text transform="translate(550.4,230) rotate(-90)" font-size="11.9" fill="#111" text-anchor="start" xml:space="preserve">- Log<tspan font-size="8.4" dy="3.2">10</tspan><tspan dy="-3.2"> </tspan><tspan font-style="italic">FDR</tspan></text>
</g>
<defs><linearGradient id="lg" x1="0" y1="0" x2="0" y2="1"><stop offset="0" stop-color="#ee2028"/><stop offset="1" stop-color="#5c0c10"/></linearGradient></defs>
<g>
<rect x="384.2" y="459.3" width="90.2" height="17.1" fill="#ec2227" stroke="#4c3434" stroke-opacity="0.85" stroke-width="0.85"/>
<rect x="384.2" y="478.7" width="89.4" height="17.1" fill="#ec2227" stroke="#4c3434" stroke-opacity="0.85" stroke-width="0.85"/>
<rect x="295.0" y="498.1" width="89.2" height="17.1" fill="#5c0c10" stroke="#4c3434" stroke-opacity="0.85" stroke-width="0.85"/>
<rect x="295.0" y="517.5" width="89.2" height="17.1" fill="#5c0c10" stroke="#4c3434" stroke-opacity="0.85" stroke-width="0.85"/>
<rect x="384.2" y="536.9" width="87.0" height="17.1" fill="#ec2227" stroke="#4c3434" stroke-opacity="0.85" stroke-width="0.85"/>
<rect x="384.2" y="556.3" width="76.5" height="17.1" fill="#ec2227" stroke="#4c3434" stroke-opacity="0.85" stroke-width="0.85"/>
<rect x="384.2" y="575.7" width="69.5" height="17.1" fill="#ec2227" stroke="#4c3434" stroke-opacity="0.85" stroke-width="0.85"/>
<rect x="316.0" y="595.1" width="68.2" height="17.1" fill="#5c0c10" stroke="#4c3434" stroke-opacity="0.85" stroke-width="0.85"/>
<rect x="316.0" y="614.5" width="68.2" height="17.1" fill="#5c0c10" stroke="#4c3434" stroke-opacity="0.85" stroke-width="0.85"/>
<rect x="316.0" y="633.9" width="68.2" height="17.1" fill="#5c0c10" stroke="#4c3434" stroke-opacity="0.85" stroke-width="0.85"/>
<rect x="319.0" y="653.2" width="65.2" height="17.1" fill="#5c0c10" stroke="#4c3434" stroke-opacity="0.85" stroke-width="0.85"/>
<rect x="384.2" y="672.6" width="62.2" height="17.1" fill="#b81f26" stroke="#4c3434" stroke-opacity="0.85" stroke-width="0.85"/>
<rect x="384.2" y="692.0" width="60.4" height="17.1" fill="#5c0c10" stroke="#4c3434" stroke-opacity="0.85" stroke-width="0.85"/>
<rect x="384.2" y="711.4" width="56.8" height="17.1" fill="#ec2227" stroke="#4c3434" stroke-opacity="0.85" stroke-width="0.85"/>
<rect x="384.2" y="730.8" width="52.2" height="17.1" fill="#5c0c10" stroke="#4c3434" stroke-opacity="0.85" stroke-width="0.85"/>
<rect x="286" y="451" width="193.6" height="299.8" fill="none" stroke="#666" stroke-width="1.3"/>
<g font-size="12" fill="#4d4d4d" text-anchor="end">
<line x1="283.0" x2="286" y1="467.9" y2="467.9" stroke="#555" stroke-width="0.9"/>
<text x="279.2" y="458.0">Respiratory electron transport, ATP</text>
<text x="279.2" y="469.0">synthesis by chemiosmotic coupling,and</text>
<text x="279.2" y="480.0">heat production by uncoupling proteins</text>
<line x1="283.0" x2="286" y1="487.3" y2="487.3" stroke="#555" stroke-width="0.9"/>
<text x="279.2" y="495.0">Respiratory electron transport</text>
<line x1="283.0" x2="286" y1="506.7" y2="506.7" stroke="#555" stroke-width="0.9"/>
<text x="279.2" y="512.1">Interferon gamma signaling</text>
<line x1="283.0" x2="286" y1="526.1" y2="526.1" stroke="#555" stroke-width="0.9"/>
<text x="279.2" y="531.0">MHC class II antigen presentation</text>
<line x1="283.0" x2="286" y1="545.5" y2="545.5" stroke="#555" stroke-width="0.9"/>
<text x="279.2" y="546.1">The citric acid (TCA) cycle and</text>
<text x="279.2" y="557.0">respiratory electron transport</text>
<line x1="283.0" x2="286" y1="564.9" y2="564.9" stroke="#555" stroke-width="0.9"/>
<text x="279.2" y="571.4">Complex I biogenesis</text>
<line x1="283.0" x2="286" y1="584.2" y2="584.2" stroke="#555" stroke-width="0.9"/>
<text x="279.2" y="591.4">Senescence-Associated Secretory Phenotype</text>
<line x1="283.0" x2="286" y1="603.6" y2="603.6" stroke="#555" stroke-width="0.9"/>
<text x="279.2" y="610.6">Diseases of Immune System</text>
<line x1="283.0" x2="286" y1="623.0" y2="623.0" stroke="#555" stroke-width="0.9"/>
<text x="279.2" y="629.6">Diseases assoc. with the TLR signaling cascade</text>
<line x1="283.0" x2="286" y1="642.4" y2="642.4" stroke="#555" stroke-width="0.9"/>
<text x="279.2" y="648.8">PD−1 signaling</text>
<line x1="283.0" x2="286" y1="661.8" y2="661.8" stroke="#555" stroke-width="0.9"/>
<text x="279.2" y="668.0">Costimulation by the CD28 family</text>
<line x1="283.0" x2="286" y1="681.2" y2="681.2" stroke="#555" stroke-width="0.9"/>
<text x="279.2" y="687.3">TP53 Regulates Metabolic Genes</text>
<line x1="283.0" x2="286" y1="700.6" y2="700.6" stroke="#555" stroke-width="0.9"/>
<text x="279.2" y="706.2">Oxidative Stress Induced Senescence</text>
<line x1="283.0" x2="286" y1="720.0" y2="720.0" stroke="#555" stroke-width="0.9"/>
<text x="279.2" y="725.4">Metabolism</text>
<line x1="283.0" x2="286" y1="739.4" y2="739.4" stroke="#555" stroke-width="0.9"/>
<text x="279.2" y="744.6">Cellular responses to stimuli</text>
</g>
<g font-size="11.4" fill="#4d4d4d" text-anchor="middle">
<text x="318.7" y="764">−2</text>
<text x="382.6" y="764">0</text>
<text x="441.6" y="764">2</text>
</g>
<text x="382.8" y="779.3" font-size="12" fill="#4d4d4d" text-anchor="middle">Normalized Enrichment Score</text>
<text x="480.1" y="445.6" font-size="12" fill="#000" text-anchor="end" font-weight="bold">Infected vs. Unexposed in all cells</text>
<text x="485.5" y="566.6" font-size="12" fill="#4d4d4d" text-anchor="start">adjusted</text>
<text x="485.5" y="579.4" font-size="12" fill="#4d4d4d" text-anchor="start">p-value</text>
<rect x="484.9" y="589" width="12.2" height="56.7" fill="url(#lg)"/>
<g font-size="10.2" fill="#4d4d4d">
<line x1="484.9" x2="487.29999999999995" y1="596.3" y2="596.3" stroke="#3a1a1a" stroke-width="0.7"/>
<line x1="494.7" x2="497.09999999999997" y1="596.3" y2="596.3" stroke="#3a1a1a" stroke-width="0.7"/>
<text x="503.1" y="597.4">0.015</text>
<line x1="484.9" x2="487.29999999999995" y1="612.7" y2="612.7" stroke="#3a1a1a" stroke-width="0.7"/>
<line x1="494.7" x2="497.09999999999997" y1="612.7" y2="612.7" stroke="#3a1a1a" stroke-width="0.7"/>
<text x="503.1" y="613.7">0.020</text>
<line x1="484.9" x2="487.29999999999995" y1="629" y2="629" stroke="#3a1a1a" stroke-width="0.7"/>
<line x1="494.7" x2="497.09999999999997" y1="629" y2="629" stroke="#3a1a1a" stroke-width="0.7"/>
<text x="503.1" y="629.8">0.025</text>
<line x1="484.9" x2="487.29999999999995" y1="645.2" y2="645.2" stroke="#3a1a1a" stroke-width="0.7"/>
<line x1="494.7" x2="497.09999999999997" y1="645.2" y2="645.2" stroke="#3a1a1a" stroke-width="0.7"/>
<text x="503.1" y="645.8">0.030</text>
</g></g>
<g>
<rect x="817.6" y="460.6" width="163.8" height="17.1" fill="#ec2227" stroke="#4c3434" stroke-opacity="0.85" stroke-width="0.85"/>
<rect x="819.4" y="479.8" width="162.0" height="17.1" fill="#ec2227" stroke="#4c3434" stroke-opacity="0.85" stroke-width="0.85"/>
<rect x="822.0" y="499.1" width="159.4" height="17.1" fill="#ec2227" stroke="#4c3434" stroke-opacity="0.85" stroke-width="0.85"/>
<rect x="824.4" y="518.4" width="157.0" height="17.1" fill="#ec2227" stroke="#4c3434" stroke-opacity="0.85" stroke-width="0.85"/>
<rect x="826.2" y="537.7" width="155.2" height="17.1" fill="#ec2227" stroke="#4c3434" stroke-opacity="0.85" stroke-width="0.85"/>
<rect x="829.4" y="557.0" width="152.0" height="17.1" fill="#ec2227" stroke="#4c3434" stroke-opacity="0.85" stroke-width="0.85"/>
<rect x="829.4" y="576.3" width="152.0" height="17.1" fill="#ec2227" stroke="#4c3434" stroke-opacity="0.85" stroke-width="0.85"/>
<rect x="830.2" y="595.6" width="151.2" height="17.1" fill="#ec2227" stroke="#4c3434" stroke-opacity="0.85" stroke-width="0.85"/>
<rect x="830.2" y="614.9" width="151.2" height="17.1" fill="#ec2227" stroke="#4c3434" stroke-opacity="0.85" stroke-width="0.85"/>
<rect x="831.0" y="634.2" width="150.4" height="17.1" fill="#ec2227" stroke="#4c3434" stroke-opacity="0.85" stroke-width="0.85"/>
<rect x="833.1" y="653.5" width="148.3" height="17.1" fill="#76121a" stroke="#4c3434" stroke-opacity="0.85" stroke-width="0.85"/>
<rect x="834.5" y="672.8" width="146.9" height="17.1" fill="#b81f26" stroke="#4c3434" stroke-opacity="0.85" stroke-width="0.85"/>
<rect x="839.9" y="692.1" width="141.5" height="17.1" fill="#b81f26" stroke="#4c3434" stroke-opacity="0.85" stroke-width="0.85"/>
<rect x="839.9" y="711.4" width="141.5" height="17.1" fill="#76121a" stroke="#4c3434" stroke-opacity="0.85" stroke-width="0.85"/>
<rect x="850.6" y="730.7" width="130.8" height="17.1" fill="#5c0c10" stroke="#4c3434" stroke-opacity="0.85" stroke-width="0.85"/>
<rect x="809.6" y="451.2" width="180.0" height="299.6" fill="none" stroke="#666" stroke-width="1.3"/>
<g font-size="12" fill="#4d4d4d" text-anchor="end">
<line x1="806.6" x2="809.6" y1="469.1" y2="469.1" stroke="#555" stroke-width="0.9"/>
<text x="802.6" y="473.3">Eukaryotic Translation Elongation</text>
<line x1="806.6" x2="809.6" y1="488.4" y2="488.4" stroke="#555" stroke-width="0.9"/>
<text x="802.6" y="491.8">Interferon Signaling</text>
<line x1="806.6" x2="809.6" y1="507.7" y2="507.7" stroke="#555" stroke-width="0.9"/>
<text x="802.6" y="510.7">Influenza Infection</text>
<line x1="806.6" x2="809.6" y1="527.0" y2="527.0" stroke="#555" stroke-width="0.9"/>
<text x="802.6" y="529.5">Signaling by ROBO receptors</text>
<line x1="806.6" x2="809.6" y1="546.3" y2="546.3" stroke="#555" stroke-width="0.9"/>
<text x="802.6" y="548.5">Peptide chain elongation</text>
<line x1="806.6" x2="809.6" y1="565.6" y2="565.6" stroke="#555" stroke-width="0.9"/>
<text x="802.6" y="568.2">Cytokine Signaling in Immune system</text>
<line x1="806.6" x2="809.6" y1="584.9" y2="584.9" stroke="#555" stroke-width="0.9"/>
<text x="802.6" y="588.2">Influenza Viral RNA Transcription and Replication</text>
<line x1="806.6" x2="809.6" y1="604.2" y2="604.2" stroke="#555" stroke-width="0.9"/>
<text x="802.6" y="606.7">Nonsense−Mediated Decay (NMD)</text>
<line x1="806.6" x2="809.6" y1="623.5" y2="623.5" stroke="#555" stroke-width="0.9"/>
<text x="802.6" y="621.8">Nonsense Mediated Decay (NMD) enhanced</text>
<text x="802.6" y="632.8">by the Exon Junction Complex (EJC)</text>
<line x1="806.6" x2="809.6" y1="642.8" y2="642.8" stroke="#555" stroke-width="0.9"/>
<text x="802.6" y="647.2">Axon guidance</text>
<line x1="806.6" x2="809.6" y1="662.1" y2="662.1" stroke="#555" stroke-width="0.9"/>
<text x="802.6" y="661.5">L13a−mediated translational silencing</text>
<text x="802.6" y="672.7">of Ceruloplasmin expression</text>
<line x1="806.6" x2="809.6" y1="681.3" y2="681.3" stroke="#555" stroke-width="0.9"/>
<text x="802.6" y="685.1">Nervous system development</text>
<line x1="806.6" x2="809.6" y1="700.6" y2="700.6" stroke="#555" stroke-width="0.9"/>
<text x="802.6" y="704.4">Infectious disease</text>
<line x1="806.6" x2="809.6" y1="719.9" y2="719.9" stroke="#555" stroke-width="0.9"/>
<text x="802.6" y="724.3">Developmental Biology</text>
<line x1="806.6" x2="809.6" y1="739.2" y2="739.2" stroke="#555" stroke-width="0.9"/>
<text x="802.6" y="743.7">Immune System</text>
</g>
<g font-size="11.4" fill="#4d4d4d" text-anchor="middle">
<text x="825.5" y="764">−2.0</text>
<text x="862.3" y="764">−1.5</text>
<text x="899.2" y="764">−1.0</text>
<text x="935.5" y="764">−0.5</text>
<text x="977.7" y="764">0.0</text>
</g>
<text x="899.6" y="779.3" font-size="12" fill="#4d4d4d" text-anchor="middle">Normalized Enrichment Score</text>
<text x="986.1" y="445.2" font-size="12" fill="#000" text-anchor="end" font-weight="bold">Exposed and uninfected vs. Unexposed in all cells</text>
<text x="995.7" y="566.6" font-size="12" fill="#4d4d4d" text-anchor="start">adjusted</text>
<text x="995.7" y="579.4" font-size="12" fill="#4d4d4d" text-anchor="start">p-value</text>
<rect x="995.1" y="589" width="12.2" height="56.7" fill="url(#lg)"/>
<g font-size="10.2" fill="#4d4d4d">
<line x1="995.1" x2="997.5" y1="591.5" y2="591.5" stroke="#c04040" stroke-width="0.7"/>
<line x1="1004.9" x2="1007.3000000000001" y1="591.5" y2="591.5" stroke="#c04040" stroke-width="0.7"/>
<text x="1013.3" y="596.8">0.008</text>
<line x1="995.1" x2="997.5" y1="606.5" y2="606.5" stroke="#c04040" stroke-width="0.7"/>
<line x1="1004.9" x2="1007.3000000000001" y1="606.5" y2="606.5" stroke="#c04040" stroke-width="0.7"/>
<text x="1013.3" y="611.8">0.009</text>
<line x1="995.1" x2="997.5" y1="621.5" y2="621.5" stroke="#c04040" stroke-width="0.7"/>
<line x1="1004.9" x2="1007.3000000000001" y1="621.5" y2="621.5" stroke="#c04040" stroke-width="0.7"/>
<text x="1013.3" y="626.8">0.010</text>
<line x1="995.1" x2="997.5" y1="636.4" y2="636.4" stroke="#c04040" stroke-width="0.7"/>
<line x1="1004.9" x2="1007.3000000000001" y1="636.4" y2="636.4" stroke="#c04040" stroke-width="0.7"/>
<text x="1013.3" y="641.7">0.011</text>
</g></g>
<text x="20.7" y="14.8" font-size="18" fill="#000" text-anchor="start" font-weight="bold" stroke="#000" stroke-width="0.45">A</text>
<text x="524.0" y="14.6" font-size="18" fill="#000" text-anchor="start" font-weight="bold" stroke="#000" stroke-width="0.45">B</text>
<text x="20.4" y="443.0" font-size="18" fill="#000" text-anchor="start" font-weight="bold" stroke="#000" stroke-width="0.45">C</text>
<text x="524.6" y="442.8" font-size="18" fill="#000" text-anchor="start" font-weight="bold" stroke="#000" stroke-width="0.45">D</text>
</svg>
</body></html>
